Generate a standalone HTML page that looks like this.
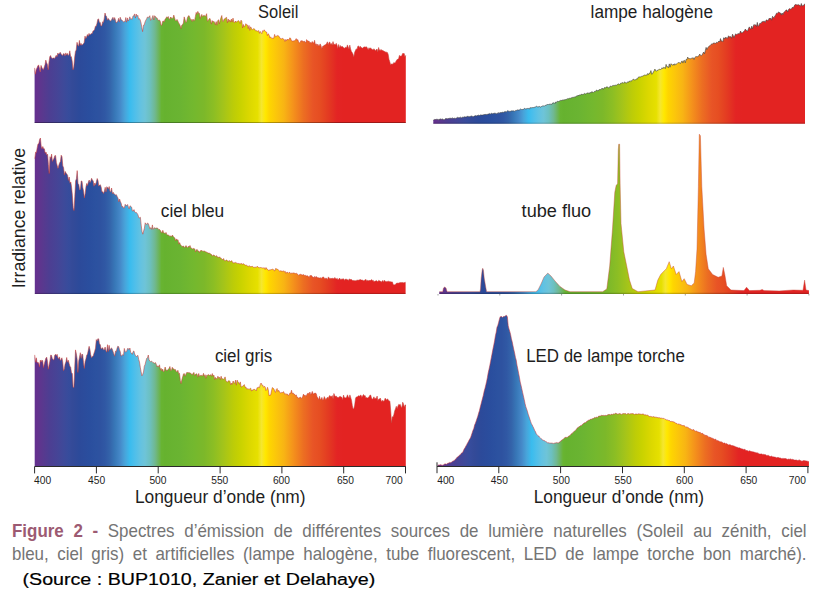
<!DOCTYPE html>
<html><head><meta charset="utf-8"><style>
html,body{margin:0;padding:0;background:#fff;}
body{width:819px;height:600px;position:relative;overflow:hidden;font-family:"Liberation Sans",sans-serif;}
.cap{position:absolute;left:11.8px;width:868.4px;font-size:18.5px;color:#747474;text-align:justify;text-align-last:justify;white-space:nowrap;line-height:20px;transform-origin:0 0;transform:scaleX(0.915);}
.cap b{color:#9c5a72;font-weight:bold;}
.l1{top:520.8px;}
.l2{top:543.5px;}
.src{position:absolute;left:22.5px;top:569px;font-size:14.6px;color:#000;line-height:18px;white-space:nowrap;transform-origin:0 0;transform:scaleX(1.346);}
</style></head><body>
<svg width="819" height="600" viewBox="0 0 819 600" style="position:absolute;left:0;top:0" font-family="Liberation Sans, sans-serif" fill="#1a1a1a"><defs><linearGradient id="gL" gradientUnits="userSpaceOnUse" x1="34.0" y1="0" x2="410.0" y2="0"><stop offset="0.0011" stop-color="#5e3290"/><stop offset="0.0061" stop-color="#65308e"/><stop offset="0.0218" stop-color="#5a388e"/><stop offset="0.0412" stop-color="#4d3e92"/><stop offset="0.0609" stop-color="#464496"/><stop offset="0.0803" stop-color="#3d4a9a"/><stop offset="0.0931" stop-color="#364c9c"/><stop offset="0.1019" stop-color="#344a98"/><stop offset="0.1215" stop-color="#2c4a9a"/><stop offset="0.1473" stop-color="#2a4e9e"/><stop offset="0.1668" stop-color="#2c52a0"/><stop offset="0.1755" stop-color="#2e52a0"/><stop offset="0.1888" stop-color="#3058a4"/><stop offset="0.2021" stop-color="#3464aa"/><stop offset="0.2154" stop-color="#3878b8"/><stop offset="0.2287" stop-color="#4588c8"/><stop offset="0.2420" stop-color="#48a4da"/><stop offset="0.2553" stop-color="#3abcee"/><stop offset="0.2686" stop-color="#4fbfea"/><stop offset="0.2819" stop-color="#62c2e2"/><stop offset="0.2952" stop-color="#6ec4d8"/><stop offset="0.3085" stop-color="#6cc0c0"/><stop offset="0.3218" stop-color="#70b890"/><stop offset="0.3324" stop-color="#6cb458"/><stop offset="0.3391" stop-color="#68b432"/><stop offset="0.3481" stop-color="#66b22f"/><stop offset="0.3870" stop-color="#6ab432"/><stop offset="0.4261" stop-color="#74b82e"/><stop offset="0.4521" stop-color="#7cb82a"/><stop offset="0.4779" stop-color="#8cbe24"/><stop offset="0.5040" stop-color="#a4c41a"/><stop offset="0.5298" stop-color="#bccc08"/><stop offset="0.5479" stop-color="#c8d200"/><stop offset="0.5739" stop-color="#dcd800"/><stop offset="0.5947" stop-color="#e6e000"/><stop offset="0.6051" stop-color="#f5e630"/><stop offset="0.6154" stop-color="#ffe800"/><stop offset="0.6258" stop-color="#fed600"/><stop offset="0.6465" stop-color="#fbc40c"/><stop offset="0.6649" stop-color="#f8b414"/><stop offset="0.6907" stop-color="#f4901c"/><stop offset="0.7168" stop-color="#ec6e22"/><stop offset="0.7426" stop-color="#e85426"/><stop offset="0.7593" stop-color="#e64e22"/><stop offset="0.7854" stop-color="#e33822"/><stop offset="0.8061" stop-color="#e32424"/><stop offset="0.8245" stop-color="#e32322"/><stop offset="1.0000" stop-color="#e32322"/></linearGradient><linearGradient id="gH" gradientUnits="userSpaceOnUse" x1="432.7" y1="0" x2="808.7" y2="0"><stop offset="0.0011" stop-color="#5e3290"/><stop offset="0.0061" stop-color="#65308e"/><stop offset="0.0218" stop-color="#5a388e"/><stop offset="0.0412" stop-color="#4d3e92"/><stop offset="0.0609" stop-color="#464496"/><stop offset="0.0803" stop-color="#3d4a9a"/><stop offset="0.0931" stop-color="#364c9c"/><stop offset="0.1019" stop-color="#344a98"/><stop offset="0.1215" stop-color="#2c4a9a"/><stop offset="0.1473" stop-color="#2a4e9e"/><stop offset="0.1668" stop-color="#2c52a0"/><stop offset="0.1755" stop-color="#2e52a0"/><stop offset="0.1888" stop-color="#3058a4"/><stop offset="0.2021" stop-color="#3464aa"/><stop offset="0.2154" stop-color="#3878b8"/><stop offset="0.2287" stop-color="#4588c8"/><stop offset="0.2420" stop-color="#48a4da"/><stop offset="0.2553" stop-color="#3abcee"/><stop offset="0.2686" stop-color="#4fbfea"/><stop offset="0.2819" stop-color="#62c2e2"/><stop offset="0.2952" stop-color="#6ec4d8"/><stop offset="0.3085" stop-color="#6cc0c0"/><stop offset="0.3218" stop-color="#70b890"/><stop offset="0.3324" stop-color="#6cb458"/><stop offset="0.3391" stop-color="#68b432"/><stop offset="0.3481" stop-color="#66b22f"/><stop offset="0.3870" stop-color="#6ab432"/><stop offset="0.4261" stop-color="#74b82e"/><stop offset="0.4521" stop-color="#7cb82a"/><stop offset="0.4779" stop-color="#8cbe24"/><stop offset="0.5040" stop-color="#a4c41a"/><stop offset="0.5298" stop-color="#bccc08"/><stop offset="0.5479" stop-color="#c8d200"/><stop offset="0.5739" stop-color="#dcd800"/><stop offset="0.5947" stop-color="#e6e000"/><stop offset="0.6051" stop-color="#f5e630"/><stop offset="0.6154" stop-color="#ffe800"/><stop offset="0.6258" stop-color="#fed600"/><stop offset="0.6465" stop-color="#fbc40c"/><stop offset="0.6649" stop-color="#f8b414"/><stop offset="0.6907" stop-color="#f4901c"/><stop offset="0.7168" stop-color="#ec6e22"/><stop offset="0.7426" stop-color="#e85426"/><stop offset="0.7593" stop-color="#e64e22"/><stop offset="0.7854" stop-color="#e33822"/><stop offset="0.8061" stop-color="#e32424"/><stop offset="0.8245" stop-color="#e32322"/><stop offset="1.0000" stop-color="#e32322"/></linearGradient><linearGradient id="gF" gradientUnits="userSpaceOnUse" x1="437.8" y1="0" x2="813.8" y2="0"><stop offset="0.0011" stop-color="#5e3290"/><stop offset="0.0061" stop-color="#65308e"/><stop offset="0.0218" stop-color="#5a388e"/><stop offset="0.0412" stop-color="#4d3e92"/><stop offset="0.0609" stop-color="#464496"/><stop offset="0.0803" stop-color="#3d4a9a"/><stop offset="0.0931" stop-color="#364c9c"/><stop offset="0.1019" stop-color="#344a98"/><stop offset="0.1215" stop-color="#2c4a9a"/><stop offset="0.1473" stop-color="#2a4e9e"/><stop offset="0.1668" stop-color="#2c52a0"/><stop offset="0.1755" stop-color="#2e52a0"/><stop offset="0.1888" stop-color="#3058a4"/><stop offset="0.2021" stop-color="#3464aa"/><stop offset="0.2154" stop-color="#3878b8"/><stop offset="0.2287" stop-color="#4588c8"/><stop offset="0.2420" stop-color="#48a4da"/><stop offset="0.2553" stop-color="#3abcee"/><stop offset="0.2686" stop-color="#4fbfea"/><stop offset="0.2819" stop-color="#62c2e2"/><stop offset="0.2952" stop-color="#6ec4d8"/><stop offset="0.3085" stop-color="#6cc0c0"/><stop offset="0.3218" stop-color="#70b890"/><stop offset="0.3324" stop-color="#6cb458"/><stop offset="0.3391" stop-color="#68b432"/><stop offset="0.3481" stop-color="#66b22f"/><stop offset="0.3870" stop-color="#6ab432"/><stop offset="0.4261" stop-color="#74b82e"/><stop offset="0.4521" stop-color="#7cb82a"/><stop offset="0.4779" stop-color="#8cbe24"/><stop offset="0.5040" stop-color="#a4c41a"/><stop offset="0.5298" stop-color="#bccc08"/><stop offset="0.5479" stop-color="#c8d200"/><stop offset="0.5739" stop-color="#dcd800"/><stop offset="0.5947" stop-color="#e6e000"/><stop offset="0.6051" stop-color="#f5e630"/><stop offset="0.6154" stop-color="#ffe800"/><stop offset="0.6258" stop-color="#fed600"/><stop offset="0.6465" stop-color="#fbc40c"/><stop offset="0.6649" stop-color="#f8b414"/><stop offset="0.6907" stop-color="#f4901c"/><stop offset="0.7168" stop-color="#ec6e22"/><stop offset="0.7426" stop-color="#e85426"/><stop offset="0.7593" stop-color="#e64e22"/><stop offset="0.7854" stop-color="#e33822"/><stop offset="0.8061" stop-color="#e32424"/><stop offset="0.8245" stop-color="#e32322"/><stop offset="1.0000" stop-color="#e32322"/></linearGradient><linearGradient id="gD" gradientUnits="userSpaceOnUse" x1="435.6" y1="0" x2="811.6" y2="0"><stop offset="0.0011" stop-color="#5e3290"/><stop offset="0.0061" stop-color="#65308e"/><stop offset="0.0218" stop-color="#5a388e"/><stop offset="0.0412" stop-color="#4d3e92"/><stop offset="0.0609" stop-color="#464496"/><stop offset="0.0803" stop-color="#3d4a9a"/><stop offset="0.0931" stop-color="#364c9c"/><stop offset="0.1019" stop-color="#344a98"/><stop offset="0.1215" stop-color="#2c4a9a"/><stop offset="0.1473" stop-color="#2a4e9e"/><stop offset="0.1668" stop-color="#2c52a0"/><stop offset="0.1755" stop-color="#2e52a0"/><stop offset="0.1888" stop-color="#3058a4"/><stop offset="0.2021" stop-color="#3464aa"/><stop offset="0.2154" stop-color="#3878b8"/><stop offset="0.2287" stop-color="#4588c8"/><stop offset="0.2420" stop-color="#48a4da"/><stop offset="0.2553" stop-color="#3abcee"/><stop offset="0.2686" stop-color="#4fbfea"/><stop offset="0.2819" stop-color="#62c2e2"/><stop offset="0.2952" stop-color="#6ec4d8"/><stop offset="0.3085" stop-color="#6cc0c0"/><stop offset="0.3218" stop-color="#70b890"/><stop offset="0.3324" stop-color="#6cb458"/><stop offset="0.3391" stop-color="#68b432"/><stop offset="0.3481" stop-color="#66b22f"/><stop offset="0.3870" stop-color="#6ab432"/><stop offset="0.4261" stop-color="#74b82e"/><stop offset="0.4521" stop-color="#7cb82a"/><stop offset="0.4779" stop-color="#8cbe24"/><stop offset="0.5040" stop-color="#a4c41a"/><stop offset="0.5298" stop-color="#bccc08"/><stop offset="0.5479" stop-color="#c8d200"/><stop offset="0.5739" stop-color="#dcd800"/><stop offset="0.5947" stop-color="#e6e000"/><stop offset="0.6051" stop-color="#f5e630"/><stop offset="0.6154" stop-color="#ffe800"/><stop offset="0.6258" stop-color="#fed600"/><stop offset="0.6465" stop-color="#fbc40c"/><stop offset="0.6649" stop-color="#f8b414"/><stop offset="0.6907" stop-color="#f4901c"/><stop offset="0.7168" stop-color="#ec6e22"/><stop offset="0.7426" stop-color="#e85426"/><stop offset="0.7593" stop-color="#e64e22"/><stop offset="0.7854" stop-color="#e33822"/><stop offset="0.8061" stop-color="#e32424"/><stop offset="0.8245" stop-color="#e32322"/><stop offset="1.0000" stop-color="#e32322"/></linearGradient></defs><path d="M34.6,123.0 L34.6,67.9 L35.4,74.2 L36.2,69.6 L37.0,68.0 L37.8,65.9 L38.6,64.9 L39.4,68.0 L40.2,71.9 L41.0,65.4 L41.8,67.3 L42.6,68.9 L43.4,69.6 L44.2,67.2 L45.0,64.8 L45.8,60.1 L46.6,62.7 L47.4,64.4 L48.2,69.8 L49.0,61.9 L49.8,56.7 L50.6,55.5 L51.4,57.8 L52.2,58.4 L53.0,58.1 L53.8,58.0 L54.6,58.4 L55.4,56.9 L56.2,55.3 L57.0,56.7 L57.8,53.1 L58.6,54.2 L59.4,53.4 L60.2,52.3 L61.0,53.7 L61.8,54.9 L62.6,55.5 L63.4,53.7 L64.2,53.7 L65.0,55.9 L65.8,52.9 L66.6,55.0 L67.4,53.4 L68.2,55.5 L69.0,54.6 L69.8,50.8 L70.6,56.4 L71.4,56.7 L72.2,61.2 L73.0,69.8 L73.8,67.1 L74.6,58.1 L75.4,51.5 L76.2,50.0 L77.0,42.3 L77.8,44.9 L78.6,46.2 L79.4,40.4 L80.2,45.3 L81.0,43.3 L81.8,45.3 L82.6,44.6 L83.4,43.7 L84.2,42.4 L85.0,36.1 L85.8,38.6 L86.6,36.9 L87.4,34.5 L88.2,36.3 L89.0,33.4 L89.8,34.8 L90.6,34.2 L91.4,33.5 L92.2,33.4 L93.0,30.9 L93.8,30.7 L94.6,29.4 L95.4,26.2 L96.2,26.2 L97.0,23.3 L97.8,19.3 L98.6,18.9 L99.4,22.4 L100.2,22.3 L101.0,26.1 L101.8,25.7 L102.6,21.8 L103.4,22.4 L104.2,18.7 L105.0,13.0 L105.8,15.6 L106.6,16.6 L107.4,20.2 L108.2,18.4 L109.0,19.6 L109.8,20.4 L110.6,21.0 L111.4,20.3 L112.2,18.5 L113.0,17.3 L113.8,20.3 L114.6,17.6 L115.4,19.7 L116.2,22.8 L117.0,22.1 L117.8,21.2 L118.6,18.3 L119.4,21.8 L120.2,17.2 L121.0,19.5 L121.8,20.0 L122.6,21.1 L123.4,21.8 L124.2,21.5 L125.0,21.7 L125.8,17.5 L126.6,22.2 L127.4,17.9 L128.2,21.0 L129.0,19.5 L129.8,16.8 L130.6,19.3 L131.4,18.8 L132.2,19.4 L133.0,15.9 L133.8,15.9 L134.6,13.9 L135.4,18.1 L136.2,14.0 L137.0,16.3 L137.8,15.3 L138.6,19.2 L139.4,18.6 L140.2,19.9 L141.0,22.8 L141.8,27.4 L142.6,31.6 L143.4,25.2 L144.2,25.2 L145.0,22.0 L145.8,20.2 L146.6,19.0 L147.4,17.0 L148.2,17.6 L149.0,17.0 L149.8,15.7 L150.6,20.3 L151.4,19.7 L152.2,17.6 L153.0,15.5 L153.8,20.0 L154.6,15.8 L155.4,16.4 L156.2,18.0 L157.0,17.8 L157.8,19.8 L158.6,20.3 L159.4,19.9 L160.2,21.2 L161.0,25.0 L161.8,25.5 L162.6,21.4 L163.4,20.9 L164.2,22.1 L165.0,19.2 L165.8,18.6 L166.6,16.9 L167.4,17.6 L168.2,16.5 L169.0,18.9 L169.8,19.3 L170.6,17.0 L171.4,18.0 L172.2,18.4 L173.0,17.9 L173.8,15.1 L174.6,17.9 L175.4,20.7 L176.2,20.7 L177.0,19.4 L177.8,20.9 L178.6,23.0 L179.4,23.9 L180.2,25.8 L181.0,28.6 L181.8,25.1 L182.6,24.6 L183.4,23.0 L184.2,16.9 L185.0,19.5 L185.8,22.5 L186.6,21.7 L187.4,17.8 L188.2,16.2 L189.0,15.6 L189.8,17.5 L190.6,19.7 L191.4,19.5 L192.2,21.5 L193.0,19.1 L193.8,20.6 L194.6,20.6 L195.4,16.4 L196.2,12.4 L197.0,14.4 L197.8,11.4 L198.6,13.2 L199.4,13.3 L200.2,18.7 L201.0,16.0 L201.8,14.4 L202.6,16.9 L203.4,15.7 L204.2,15.3 L205.0,16.3 L205.8,15.9 L206.6,13.7 L207.4,21.2 L208.2,20.6 L209.0,19.3 L209.8,18.3 L210.6,20.3 L211.4,24.1 L212.2,20.6 L213.0,22.1 L213.8,21.3 L214.6,22.2 L215.4,24.8 L216.2,21.6 L217.0,25.2 L217.8,20.5 L218.6,19.8 L219.4,23.8 L220.2,20.3 L221.0,17.6 L221.8,15.5 L222.6,21.4 L223.4,21.2 L224.2,18.9 L225.0,19.0 L225.8,17.7 L226.6,17.4 L227.4,22.9 L228.2,19.0 L229.0,21.9 L229.8,19.9 L230.6,22.1 L231.4,19.1 L232.2,22.1 L233.0,18.1 L233.8,21.9 L234.6,22.8 L235.4,21.0 L236.2,22.2 L237.0,21.4 L237.8,21.2 L238.6,20.6 L239.4,21.7 L240.2,23.5 L241.0,20.2 L241.8,21.1 L242.6,28.0 L243.4,24.5 L244.2,26.8 L245.0,26.3 L245.8,23.7 L246.6,24.8 L247.4,24.9 L248.2,28.7 L249.0,25.4 L249.8,30.4 L250.6,26.8 L251.4,28.1 L252.2,29.9 L253.0,29.2 L253.8,28.6 L254.6,29.0 L255.4,30.7 L256.2,30.7 L257.0,30.8 L257.8,31.4 L258.6,30.5 L259.4,33.3 L260.2,31.4 L261.0,32.7 L261.8,33.7 L262.6,30.7 L263.4,31.3 L264.2,29.8 L265.0,31.1 L265.8,32.0 L266.6,32.0 L267.4,35.6 L268.2,33.8 L269.0,34.6 L269.8,37.7 L270.6,36.8 L271.4,38.2 L272.2,38.5 L273.0,37.8 L273.8,38.4 L274.6,34.4 L275.4,36.8 L276.2,36.2 L277.0,36.0 L277.8,35.4 L278.6,35.9 L279.4,37.1 L280.2,38.3 L281.0,39.0 L281.8,38.7 L282.6,38.3 L283.4,39.1 L284.2,39.4 L285.0,41.5 L285.8,39.4 L286.6,40.7 L287.4,39.0 L288.2,39.8 L289.0,39.7 L289.8,37.8 L290.6,38.3 L291.4,40.6 L292.2,41.1 L293.0,40.9 L293.8,40.9 L294.6,40.8 L295.4,39.9 L296.2,38.6 L297.0,40.3 L297.8,39.6 L298.6,42.1 L299.4,42.9 L300.2,42.3 L301.0,40.5 L301.8,41.1 L302.6,40.9 L303.4,41.6 L304.2,41.3 L305.0,41.7 L305.8,42.9 L306.6,39.6 L307.4,40.7 L308.2,41.3 L309.0,41.0 L309.8,42.8 L310.6,42.5 L311.4,43.2 L312.2,41.5 L313.0,42.4 L313.8,43.3 L314.6,40.3 L315.4,45.0 L316.2,43.8 L317.0,45.9 L317.8,44.1 L318.6,46.0 L319.4,45.4 L320.2,43.9 L321.0,45.7 L321.8,49.0 L322.6,46.4 L323.4,46.1 L324.2,45.3 L325.0,45.0 L325.8,44.6 L326.6,43.5 L327.4,41.8 L328.2,45.1 L329.0,42.5 L329.8,42.0 L330.6,44.6 L331.4,43.5 L332.2,45.2 L333.0,41.6 L333.8,44.6 L334.6,44.2 L335.4,45.0 L336.2,43.3 L337.0,45.1 L337.8,48.4 L338.6,44.5 L339.4,48.1 L340.2,45.4 L341.0,47.1 L341.8,46.5 L342.6,46.6 L343.4,47.6 L344.2,48.2 L345.0,48.0 L345.8,47.1 L346.6,47.8 L347.4,44.9 L348.2,47.0 L349.0,49.1 L349.8,45.1 L350.6,48.9 L351.4,51.5 L352.2,52.6 L353.0,54.2 L353.8,57.0 L354.6,52.4 L355.4,50.6 L356.2,48.9 L357.0,49.4 L357.8,46.3 L358.6,45.9 L359.4,47.7 L360.2,46.2 L361.0,47.4 L361.8,47.7 L362.6,48.3 L363.4,47.3 L364.2,47.1 L365.0,46.8 L365.8,47.2 L366.6,46.8 L367.4,48.2 L368.2,49.7 L369.0,47.7 L369.8,49.0 L370.6,47.8 L371.4,49.1 L372.2,49.2 L373.0,50.2 L373.8,48.8 L374.6,49.4 L375.4,51.0 L376.2,49.8 L377.0,49.0 L377.8,51.9 L378.6,47.5 L379.4,50.1 L380.2,50.4 L381.0,49.4 L381.8,50.2 L382.6,50.5 L383.4,50.7 L384.2,51.5 L385.0,51.6 L385.8,52.3 L386.6,52.2 L387.4,52.5 L388.2,54.4 L389.0,59.4 L389.8,61.8 L390.6,64.8 L391.4,64.1 L392.2,64.0 L393.0,64.2 L393.8,62.5 L394.6,63.0 L395.4,62.4 L396.2,60.9 L397.0,59.6 L397.8,59.3 L398.6,58.8 L399.4,55.4 L400.2,56.0 L401.0,56.3 L401.8,55.5 L402.6,53.5 L403.4,53.5 L404.2,53.5 L405.0,57.0 L405.8,55.3 L405.8,123.0 Z" fill="url(#gL)"/><path d="M34.6,67.9 L35.4,74.2 L36.2,69.6 L37.0,68.0 L37.8,65.9 L38.6,64.9 L39.4,68.0 L40.2,71.9 L41.0,65.4 L41.8,67.3 L42.6,68.9 L43.4,69.6 L44.2,67.2 L45.0,64.8 L45.8,60.1 L46.6,62.7 L47.4,64.4 L48.2,69.8 L49.0,61.9 L49.8,56.7 L50.6,55.5 L51.4,57.8 L52.2,58.4 L53.0,58.1 L53.8,58.0 L54.6,58.4 L55.4,56.9 L56.2,55.3 L57.0,56.7 L57.8,53.1 L58.6,54.2 L59.4,53.4 L60.2,52.3 L61.0,53.7 L61.8,54.9 L62.6,55.5 L63.4,53.7 L64.2,53.7 L65.0,55.9 L65.8,52.9 L66.6,55.0 L67.4,53.4 L68.2,55.5 L69.0,54.6 L69.8,50.8 L70.6,56.4 L71.4,56.7 L72.2,61.2 L73.0,69.8 L73.8,67.1 L74.6,58.1 L75.4,51.5 L76.2,50.0 L77.0,42.3 L77.8,44.9 L78.6,46.2 L79.4,40.4 L80.2,45.3 L81.0,43.3 L81.8,45.3 L82.6,44.6 L83.4,43.7 L84.2,42.4 L85.0,36.1 L85.8,38.6 L86.6,36.9 L87.4,34.5 L88.2,36.3 L89.0,33.4 L89.8,34.8 L90.6,34.2 L91.4,33.5 L92.2,33.4 L93.0,30.9 L93.8,30.7 L94.6,29.4 L95.4,26.2 L96.2,26.2 L97.0,23.3 L97.8,19.3 L98.6,18.9 L99.4,22.4 L100.2,22.3 L101.0,26.1 L101.8,25.7 L102.6,21.8 L103.4,22.4 L104.2,18.7 L105.0,13.0 L105.8,15.6 L106.6,16.6 L107.4,20.2 L108.2,18.4 L109.0,19.6 L109.8,20.4 L110.6,21.0 L111.4,20.3 L112.2,18.5 L113.0,17.3 L113.8,20.3 L114.6,17.6 L115.4,19.7 L116.2,22.8 L117.0,22.1 L117.8,21.2 L118.6,18.3 L119.4,21.8 L120.2,17.2 L121.0,19.5 L121.8,20.0 L122.6,21.1 L123.4,21.8 L124.2,21.5 L125.0,21.7 L125.8,17.5 L126.6,22.2 L127.4,17.9 L128.2,21.0 L129.0,19.5 L129.8,16.8 L130.6,19.3 L131.4,18.8 L132.2,19.4 L133.0,15.9 L133.8,15.9 L134.6,13.9 L135.4,18.1 L136.2,14.0 L137.0,16.3 L137.8,15.3 L138.6,19.2 L139.4,18.6 L140.2,19.9 L141.0,22.8 L141.8,27.4 L142.6,31.6 L143.4,25.2 L144.2,25.2 L145.0,22.0 L145.8,20.2 L146.6,19.0 L147.4,17.0 L148.2,17.6 L149.0,17.0 L149.8,15.7 L150.6,20.3 L151.4,19.7 L152.2,17.6 L153.0,15.5 L153.8,20.0 L154.6,15.8 L155.4,16.4 L156.2,18.0 L157.0,17.8 L157.8,19.8 L158.6,20.3 L159.4,19.9 L160.2,21.2 L161.0,25.0 L161.8,25.5 L162.6,21.4 L163.4,20.9 L164.2,22.1 L165.0,19.2 L165.8,18.6 L166.6,16.9 L167.4,17.6 L168.2,16.5 L169.0,18.9 L169.8,19.3 L170.6,17.0 L171.4,18.0 L172.2,18.4 L173.0,17.9 L173.8,15.1 L174.6,17.9 L175.4,20.7 L176.2,20.7 L177.0,19.4 L177.8,20.9 L178.6,23.0 L179.4,23.9 L180.2,25.8 L181.0,28.6 L181.8,25.1 L182.6,24.6 L183.4,23.0 L184.2,16.9 L185.0,19.5 L185.8,22.5 L186.6,21.7 L187.4,17.8 L188.2,16.2 L189.0,15.6 L189.8,17.5 L190.6,19.7 L191.4,19.5 L192.2,21.5 L193.0,19.1 L193.8,20.6 L194.6,20.6 L195.4,16.4 L196.2,12.4 L197.0,14.4 L197.8,11.4 L198.6,13.2 L199.4,13.3 L200.2,18.7 L201.0,16.0 L201.8,14.4 L202.6,16.9 L203.4,15.7 L204.2,15.3 L205.0,16.3 L205.8,15.9 L206.6,13.7 L207.4,21.2 L208.2,20.6 L209.0,19.3 L209.8,18.3 L210.6,20.3 L211.4,24.1 L212.2,20.6 L213.0,22.1 L213.8,21.3 L214.6,22.2 L215.4,24.8 L216.2,21.6 L217.0,25.2 L217.8,20.5 L218.6,19.8 L219.4,23.8 L220.2,20.3 L221.0,17.6 L221.8,15.5 L222.6,21.4 L223.4,21.2 L224.2,18.9 L225.0,19.0 L225.8,17.7 L226.6,17.4 L227.4,22.9 L228.2,19.0 L229.0,21.9 L229.8,19.9 L230.6,22.1 L231.4,19.1 L232.2,22.1 L233.0,18.1 L233.8,21.9 L234.6,22.8 L235.4,21.0 L236.2,22.2 L237.0,21.4 L237.8,21.2 L238.6,20.6 L239.4,21.7 L240.2,23.5 L241.0,20.2 L241.8,21.1 L242.6,28.0 L243.4,24.5 L244.2,26.8 L245.0,26.3 L245.8,23.7 L246.6,24.8 L247.4,24.9 L248.2,28.7 L249.0,25.4 L249.8,30.4 L250.6,26.8 L251.4,28.1 L252.2,29.9 L253.0,29.2 L253.8,28.6 L254.6,29.0 L255.4,30.7 L256.2,30.7 L257.0,30.8 L257.8,31.4 L258.6,30.5 L259.4,33.3 L260.2,31.4 L261.0,32.7 L261.8,33.7 L262.6,30.7 L263.4,31.3 L264.2,29.8 L265.0,31.1 L265.8,32.0 L266.6,32.0 L267.4,35.6 L268.2,33.8 L269.0,34.6 L269.8,37.7 L270.6,36.8 L271.4,38.2 L272.2,38.5 L273.0,37.8 L273.8,38.4 L274.6,34.4 L275.4,36.8 L276.2,36.2 L277.0,36.0 L277.8,35.4 L278.6,35.9 L279.4,37.1 L280.2,38.3 L281.0,39.0 L281.8,38.7 L282.6,38.3 L283.4,39.1 L284.2,39.4 L285.0,41.5 L285.8,39.4 L286.6,40.7 L287.4,39.0 L288.2,39.8 L289.0,39.7 L289.8,37.8 L290.6,38.3 L291.4,40.6 L292.2,41.1 L293.0,40.9 L293.8,40.9 L294.6,40.8 L295.4,39.9 L296.2,38.6 L297.0,40.3 L297.8,39.6 L298.6,42.1 L299.4,42.9 L300.2,42.3 L301.0,40.5 L301.8,41.1 L302.6,40.9 L303.4,41.6 L304.2,41.3 L305.0,41.7 L305.8,42.9 L306.6,39.6 L307.4,40.7 L308.2,41.3 L309.0,41.0 L309.8,42.8 L310.6,42.5 L311.4,43.2 L312.2,41.5 L313.0,42.4 L313.8,43.3 L314.6,40.3 L315.4,45.0 L316.2,43.8 L317.0,45.9 L317.8,44.1 L318.6,46.0 L319.4,45.4 L320.2,43.9 L321.0,45.7 L321.8,49.0 L322.6,46.4 L323.4,46.1 L324.2,45.3 L325.0,45.0 L325.8,44.6 L326.6,43.5 L327.4,41.8 L328.2,45.1 L329.0,42.5 L329.8,42.0 L330.6,44.6 L331.4,43.5 L332.2,45.2 L333.0,41.6 L333.8,44.6 L334.6,44.2 L335.4,45.0 L336.2,43.3 L337.0,45.1 L337.8,48.4 L338.6,44.5 L339.4,48.1 L340.2,45.4 L341.0,47.1 L341.8,46.5 L342.6,46.6 L343.4,47.6 L344.2,48.2 L345.0,48.0 L345.8,47.1 L346.6,47.8 L347.4,44.9 L348.2,47.0 L349.0,49.1 L349.8,45.1 L350.6,48.9 L351.4,51.5 L352.2,52.6 L353.0,54.2 L353.8,57.0 L354.6,52.4 L355.4,50.6 L356.2,48.9 L357.0,49.4 L357.8,46.3 L358.6,45.9 L359.4,47.7 L360.2,46.2 L361.0,47.4 L361.8,47.7 L362.6,48.3 L363.4,47.3 L364.2,47.1 L365.0,46.8 L365.8,47.2 L366.6,46.8 L367.4,48.2 L368.2,49.7 L369.0,47.7 L369.8,49.0 L370.6,47.8 L371.4,49.1 L372.2,49.2 L373.0,50.2 L373.8,48.8 L374.6,49.4 L375.4,51.0 L376.2,49.8 L377.0,49.0 L377.8,51.9 L378.6,47.5 L379.4,50.1 L380.2,50.4 L381.0,49.4 L381.8,50.2 L382.6,50.5 L383.4,50.7 L384.2,51.5 L385.0,51.6 L385.8,52.3 L386.6,52.2 L387.4,52.5 L388.2,54.4 L389.0,59.4 L389.8,61.8 L390.6,64.8 L391.4,64.1 L392.2,64.0 L393.0,64.2 L393.8,62.5 L394.6,63.0 L395.4,62.4 L396.2,60.9 L397.0,59.6 L397.8,59.3 L398.6,58.8 L399.4,55.4 L400.2,56.0 L401.0,56.3 L401.8,55.5 L402.6,53.5 L403.4,53.5 L404.2,53.5 L405.0,57.0 L405.8,55.3" fill="none" stroke="#c83c34" stroke-width="1.0" stroke-opacity="0.55" stroke-linejoin="round"/><path d="M433.3,123.8 L433.3,120.1 L434.1,119.9 L434.9,119.3 L435.7,119.6 L436.5,119.3 L437.3,119.4 L438.1,119.2 L438.9,120.2 L439.7,119.0 L440.5,118.9 L441.3,119.3 L442.1,119.2 L442.9,118.9 L443.7,119.9 L444.5,119.8 L445.3,118.7 L446.1,118.6 L446.9,118.7 L447.7,118.8 L448.5,118.5 L449.3,118.3 L450.1,118.5 L450.9,118.1 L451.7,118.4 L452.5,117.9 L453.3,118.6 L454.1,118.1 L454.9,118.4 L455.7,118.4 L456.5,118.1 L457.3,117.4 L458.1,117.4 L458.9,117.9 L459.7,117.6 L460.5,117.2 L461.3,117.9 L462.1,117.2 L462.9,117.3 L463.7,117.2 L464.5,116.8 L465.3,116.9 L466.1,117.1 L466.9,116.8 L467.7,115.9 L468.5,116.8 L469.3,116.7 L470.1,116.5 L470.9,116.2 L471.7,116.0 L472.5,116.4 L473.3,116.8 L474.1,116.1 L474.9,116.0 L475.7,115.6 L476.5,115.9 L477.3,115.6 L478.1,115.2 L478.9,115.2 L479.7,115.6 L480.5,114.9 L481.3,115.1 L482.1,115.0 L482.9,115.1 L483.7,114.7 L484.5,114.5 L485.3,114.5 L486.1,114.2 L486.9,114.9 L487.7,114.0 L488.5,114.1 L489.3,113.5 L490.1,114.2 L490.9,113.7 L491.7,113.3 L492.5,113.8 L493.3,113.5 L494.1,113.3 L494.9,113.2 L495.7,113.4 L496.5,113.8 L497.3,113.2 L498.1,113.5 L498.9,112.4 L499.7,113.2 L500.5,112.5 L501.3,112.6 L502.1,112.6 L502.9,112.0 L503.7,112.4 L504.5,111.8 L505.3,111.5 L506.1,112.2 L506.9,111.5 L507.7,110.6 L508.5,111.2 L509.3,111.4 L510.1,111.3 L510.9,111.3 L511.7,110.8 L512.5,110.9 L513.3,110.8 L514.1,111.2 L514.9,111.2 L515.7,110.4 L516.5,110.4 L517.3,109.9 L518.1,110.1 L518.9,110.1 L519.7,109.8 L520.5,109.0 L521.3,109.4 L522.1,109.7 L522.9,109.3 L523.7,109.3 L524.5,108.3 L525.3,108.9 L526.1,108.8 L526.9,108.7 L527.7,108.4 L528.5,108.4 L529.3,109.2 L530.1,107.5 L530.9,108.1 L531.7,107.7 L532.5,107.6 L533.3,107.7 L534.1,107.1 L534.9,107.5 L535.7,106.8 L536.5,106.1 L537.3,106.9 L538.1,107.0 L538.9,106.6 L539.7,106.5 L540.5,107.1 L541.3,106.6 L542.1,106.2 L542.9,105.9 L543.7,105.9 L544.5,106.1 L545.3,105.3 L546.1,105.4 L546.9,104.8 L547.7,104.0 L548.5,104.9 L549.3,104.1 L550.1,104.2 L550.9,104.2 L551.7,104.5 L552.5,103.0 L553.3,103.0 L554.1,102.7 L554.9,103.6 L555.7,102.0 L556.5,102.4 L557.3,101.2 L558.1,101.7 L558.9,101.3 L559.7,100.9 L560.5,100.4 L561.3,100.6 L562.1,99.9 L562.9,100.3 L563.7,99.9 L564.5,99.8 L565.3,99.7 L566.1,99.3 L566.9,99.4 L567.7,98.5 L568.5,98.8 L569.3,98.3 L570.1,98.5 L570.9,98.0 L571.7,97.7 L572.5,97.4 L573.3,97.3 L574.1,97.4 L574.9,96.8 L575.7,96.8 L576.5,96.1 L577.3,96.3 L578.1,95.0 L578.9,95.8 L579.7,94.8 L580.5,95.1 L581.3,94.3 L582.1,94.2 L582.9,94.8 L583.7,94.1 L584.5,93.4 L585.3,94.1 L586.1,93.7 L586.9,92.9 L587.7,93.1 L588.5,92.9 L589.3,93.8 L590.1,92.3 L590.9,93.1 L591.7,91.7 L592.5,92.1 L593.3,92.5 L594.1,91.7 L594.9,91.4 L595.7,91.4 L596.5,90.0 L597.3,90.5 L598.1,91.0 L598.9,89.8 L599.7,89.6 L600.5,89.6 L601.3,89.4 L602.1,88.1 L602.9,89.3 L603.7,88.8 L604.5,87.5 L605.3,88.2 L606.1,87.0 L606.9,86.9 L607.7,87.1 L608.5,87.8 L609.3,87.7 L610.1,86.2 L610.9,86.2 L611.7,86.4 L612.5,85.7 L613.3,85.4 L614.1,85.7 L614.9,85.2 L615.7,85.2 L616.5,85.2 L617.3,84.6 L618.1,84.0 L618.9,83.9 L619.7,84.7 L620.5,83.3 L621.3,83.2 L622.1,82.9 L622.9,82.6 L623.7,83.4 L624.5,81.9 L625.3,82.6 L626.1,83.0 L626.9,82.9 L627.7,81.8 L628.5,82.3 L629.3,81.0 L630.1,81.7 L630.9,80.6 L631.7,80.9 L632.5,80.2 L633.3,79.1 L634.1,79.7 L634.9,80.0 L635.7,79.8 L636.5,78.8 L637.3,79.2 L638.1,77.4 L638.9,77.0 L639.7,76.9 L640.5,76.9 L641.3,76.4 L642.1,76.5 L642.9,75.9 L643.7,75.6 L644.5,75.1 L645.3,75.3 L646.1,74.7 L646.9,75.4 L647.7,73.5 L648.5,74.6 L649.3,73.1 L650.1,73.3 L650.9,70.6 L651.7,74.3 L652.5,73.8 L653.3,72.1 L654.1,71.0 L654.9,69.1 L655.7,70.8 L656.5,71.2 L657.3,70.2 L658.1,70.4 L658.9,69.3 L659.7,69.3 L660.5,69.5 L661.3,69.2 L662.1,67.7 L662.9,68.8 L663.7,67.3 L664.5,67.6 L665.3,68.7 L666.1,64.4 L666.9,67.2 L667.7,66.6 L668.5,67.8 L669.3,63.9 L670.1,67.2 L670.9,63.7 L671.7,64.3 L672.5,65.4 L673.3,64.1 L674.1,65.3 L674.9,63.7 L675.7,64.7 L676.5,64.1 L677.3,63.4 L678.1,62.6 L678.9,62.8 L679.7,62.8 L680.5,63.5 L681.3,61.8 L682.1,60.9 L682.9,63.1 L683.7,60.7 L684.5,60.4 L685.3,62.8 L686.1,59.4 L686.9,59.7 L687.7,57.1 L688.5,58.6 L689.3,58.6 L690.1,58.7 L690.9,58.7 L691.7,58.2 L692.5,58.0 L693.3,57.8 L694.1,59.5 L694.9,57.4 L695.7,56.7 L696.5,56.6 L697.3,56.8 L698.1,56.3 L698.9,55.8 L699.7,54.1 L700.5,55.3 L701.3,55.7 L702.1,55.0 L702.9,53.3 L703.7,52.0 L704.5,53.8 L705.3,50.7 L706.1,47.4 L706.9,49.6 L707.7,47.9 L708.5,46.7 L709.3,46.1 L710.1,45.7 L710.9,44.6 L711.7,44.0 L712.5,44.2 L713.3,43.0 L714.1,43.2 L714.9,43.1 L715.7,43.5 L716.5,42.3 L717.3,42.9 L718.1,41.9 L718.9,41.0 L719.7,42.0 L720.5,38.6 L721.3,41.1 L722.1,40.9 L722.9,41.7 L723.7,37.7 L724.5,39.0 L725.3,37.3 L726.1,38.2 L726.9,37.4 L727.7,38.4 L728.5,35.8 L729.3,36.8 L730.1,36.9 L730.9,36.6 L731.7,38.3 L732.5,34.2 L733.3,35.8 L734.1,37.6 L734.9,35.5 L735.7,33.8 L736.5,34.8 L737.3,34.3 L738.1,33.4 L738.9,34.0 L739.7,33.5 L740.5,31.0 L741.3,32.8 L742.1,33.1 L742.9,32.2 L743.7,31.6 L744.5,30.7 L745.3,29.1 L746.1,30.1 L746.9,31.0 L747.7,30.9 L748.5,28.6 L749.3,26.9 L750.1,28.7 L750.9,29.1 L751.7,26.2 L752.5,28.8 L753.3,26.1 L754.1,24.4 L754.9,25.4 L755.7,24.8 L756.5,26.6 L757.3,22.4 L758.1,26.2 L758.9,25.8 L759.7,23.4 L760.5,23.3 L761.3,23.2 L762.1,21.4 L762.9,22.0 L763.7,21.2 L764.5,21.2 L765.3,22.4 L766.1,20.1 L766.9,19.9 L767.7,20.5 L768.5,20.1 L769.3,18.0 L770.1,18.9 L770.9,18.1 L771.7,20.2 L772.5,16.3 L773.3,17.4 L774.1,17.7 L774.9,15.9 L775.7,15.1 L776.5,13.2 L777.3,13.4 L778.1,12.4 L778.9,12.0 L779.7,12.7 L780.5,13.0 L781.3,15.1 L782.1,13.0 L782.9,14.7 L783.7,12.5 L784.5,11.8 L785.3,11.2 L786.1,9.9 L786.9,10.1 L787.7,12.0 L788.5,9.7 L789.3,8.6 L790.1,9.3 L790.9,8.9 L791.7,8.7 L792.5,7.1 L793.3,7.9 L794.1,6.3 L794.9,4.8 L795.7,4.5 L796.5,4.8 L797.3,5.1 L798.1,4.4 L798.9,5.1 L799.7,5.3 L800.5,6.3 L801.3,3.5 L802.1,6.1 L802.9,5.6 L803.7,5.5 L804.5,4.0 L805.0,4.4 L805.0,123.8 Z" fill="url(#gH)"/><path d="M433.3,120.1 L434.1,119.9 L434.9,119.3 L435.7,119.6 L436.5,119.3 L437.3,119.4 L438.1,119.2 L438.9,120.2 L439.7,119.0 L440.5,118.9 L441.3,119.3 L442.1,119.2 L442.9,118.9 L443.7,119.9 L444.5,119.8 L445.3,118.7 L446.1,118.6 L446.9,118.7 L447.7,118.8 L448.5,118.5 L449.3,118.3 L450.1,118.5 L450.9,118.1 L451.7,118.4 L452.5,117.9 L453.3,118.6 L454.1,118.1 L454.9,118.4 L455.7,118.4 L456.5,118.1 L457.3,117.4 L458.1,117.4 L458.9,117.9 L459.7,117.6 L460.5,117.2 L461.3,117.9 L462.1,117.2 L462.9,117.3 L463.7,117.2 L464.5,116.8 L465.3,116.9 L466.1,117.1 L466.9,116.8 L467.7,115.9 L468.5,116.8 L469.3,116.7 L470.1,116.5 L470.9,116.2 L471.7,116.0 L472.5,116.4 L473.3,116.8 L474.1,116.1 L474.9,116.0 L475.7,115.6 L476.5,115.9 L477.3,115.6 L478.1,115.2 L478.9,115.2 L479.7,115.6 L480.5,114.9 L481.3,115.1 L482.1,115.0 L482.9,115.1 L483.7,114.7 L484.5,114.5 L485.3,114.5 L486.1,114.2 L486.9,114.9 L487.7,114.0 L488.5,114.1 L489.3,113.5 L490.1,114.2 L490.9,113.7 L491.7,113.3 L492.5,113.8 L493.3,113.5 L494.1,113.3 L494.9,113.2 L495.7,113.4 L496.5,113.8 L497.3,113.2 L498.1,113.5 L498.9,112.4 L499.7,113.2 L500.5,112.5 L501.3,112.6 L502.1,112.6 L502.9,112.0 L503.7,112.4 L504.5,111.8 L505.3,111.5 L506.1,112.2 L506.9,111.5 L507.7,110.6 L508.5,111.2 L509.3,111.4 L510.1,111.3 L510.9,111.3 L511.7,110.8 L512.5,110.9 L513.3,110.8 L514.1,111.2 L514.9,111.2 L515.7,110.4 L516.5,110.4 L517.3,109.9 L518.1,110.1 L518.9,110.1 L519.7,109.8 L520.5,109.0 L521.3,109.4 L522.1,109.7 L522.9,109.3 L523.7,109.3 L524.5,108.3 L525.3,108.9 L526.1,108.8 L526.9,108.7 L527.7,108.4 L528.5,108.4 L529.3,109.2 L530.1,107.5 L530.9,108.1 L531.7,107.7 L532.5,107.6 L533.3,107.7 L534.1,107.1 L534.9,107.5 L535.7,106.8 L536.5,106.1 L537.3,106.9 L538.1,107.0 L538.9,106.6 L539.7,106.5 L540.5,107.1 L541.3,106.6 L542.1,106.2 L542.9,105.9 L543.7,105.9 L544.5,106.1 L545.3,105.3 L546.1,105.4 L546.9,104.8 L547.7,104.0 L548.5,104.9 L549.3,104.1 L550.1,104.2 L550.9,104.2 L551.7,104.5 L552.5,103.0 L553.3,103.0 L554.1,102.7 L554.9,103.6 L555.7,102.0 L556.5,102.4 L557.3,101.2 L558.1,101.7 L558.9,101.3 L559.7,100.9 L560.5,100.4 L561.3,100.6 L562.1,99.9 L562.9,100.3 L563.7,99.9 L564.5,99.8 L565.3,99.7 L566.1,99.3 L566.9,99.4 L567.7,98.5 L568.5,98.8 L569.3,98.3 L570.1,98.5 L570.9,98.0 L571.7,97.7 L572.5,97.4 L573.3,97.3 L574.1,97.4 L574.9,96.8 L575.7,96.8 L576.5,96.1 L577.3,96.3 L578.1,95.0 L578.9,95.8 L579.7,94.8 L580.5,95.1 L581.3,94.3 L582.1,94.2 L582.9,94.8 L583.7,94.1 L584.5,93.4 L585.3,94.1 L586.1,93.7 L586.9,92.9 L587.7,93.1 L588.5,92.9 L589.3,93.8 L590.1,92.3 L590.9,93.1 L591.7,91.7 L592.5,92.1 L593.3,92.5 L594.1,91.7 L594.9,91.4 L595.7,91.4 L596.5,90.0 L597.3,90.5 L598.1,91.0 L598.9,89.8 L599.7,89.6 L600.5,89.6 L601.3,89.4 L602.1,88.1 L602.9,89.3 L603.7,88.8 L604.5,87.5 L605.3,88.2 L606.1,87.0 L606.9,86.9 L607.7,87.1 L608.5,87.8 L609.3,87.7 L610.1,86.2 L610.9,86.2 L611.7,86.4 L612.5,85.7 L613.3,85.4 L614.1,85.7 L614.9,85.2 L615.7,85.2 L616.5,85.2 L617.3,84.6 L618.1,84.0 L618.9,83.9 L619.7,84.7 L620.5,83.3 L621.3,83.2 L622.1,82.9 L622.9,82.6 L623.7,83.4 L624.5,81.9 L625.3,82.6 L626.1,83.0 L626.9,82.9 L627.7,81.8 L628.5,82.3 L629.3,81.0 L630.1,81.7 L630.9,80.6 L631.7,80.9 L632.5,80.2 L633.3,79.1 L634.1,79.7 L634.9,80.0 L635.7,79.8 L636.5,78.8 L637.3,79.2 L638.1,77.4 L638.9,77.0 L639.7,76.9 L640.5,76.9 L641.3,76.4 L642.1,76.5 L642.9,75.9 L643.7,75.6 L644.5,75.1 L645.3,75.3 L646.1,74.7 L646.9,75.4 L647.7,73.5 L648.5,74.6 L649.3,73.1 L650.1,73.3 L650.9,70.6 L651.7,74.3 L652.5,73.8 L653.3,72.1 L654.1,71.0 L654.9,69.1 L655.7,70.8 L656.5,71.2 L657.3,70.2 L658.1,70.4 L658.9,69.3 L659.7,69.3 L660.5,69.5 L661.3,69.2 L662.1,67.7 L662.9,68.8 L663.7,67.3 L664.5,67.6 L665.3,68.7 L666.1,64.4 L666.9,67.2 L667.7,66.6 L668.5,67.8 L669.3,63.9 L670.1,67.2 L670.9,63.7 L671.7,64.3 L672.5,65.4 L673.3,64.1 L674.1,65.3 L674.9,63.7 L675.7,64.7 L676.5,64.1 L677.3,63.4 L678.1,62.6 L678.9,62.8 L679.7,62.8 L680.5,63.5 L681.3,61.8 L682.1,60.9 L682.9,63.1 L683.7,60.7 L684.5,60.4 L685.3,62.8 L686.1,59.4 L686.9,59.7 L687.7,57.1 L688.5,58.6 L689.3,58.6 L690.1,58.7 L690.9,58.7 L691.7,58.2 L692.5,58.0 L693.3,57.8 L694.1,59.5 L694.9,57.4 L695.7,56.7 L696.5,56.6 L697.3,56.8 L698.1,56.3 L698.9,55.8 L699.7,54.1 L700.5,55.3 L701.3,55.7 L702.1,55.0 L702.9,53.3 L703.7,52.0 L704.5,53.8 L705.3,50.7 L706.1,47.4 L706.9,49.6 L707.7,47.9 L708.5,46.7 L709.3,46.1 L710.1,45.7 L710.9,44.6 L711.7,44.0 L712.5,44.2 L713.3,43.0 L714.1,43.2 L714.9,43.1 L715.7,43.5 L716.5,42.3 L717.3,42.9 L718.1,41.9 L718.9,41.0 L719.7,42.0 L720.5,38.6 L721.3,41.1 L722.1,40.9 L722.9,41.7 L723.7,37.7 L724.5,39.0 L725.3,37.3 L726.1,38.2 L726.9,37.4 L727.7,38.4 L728.5,35.8 L729.3,36.8 L730.1,36.9 L730.9,36.6 L731.7,38.3 L732.5,34.2 L733.3,35.8 L734.1,37.6 L734.9,35.5 L735.7,33.8 L736.5,34.8 L737.3,34.3 L738.1,33.4 L738.9,34.0 L739.7,33.5 L740.5,31.0 L741.3,32.8 L742.1,33.1 L742.9,32.2 L743.7,31.6 L744.5,30.7 L745.3,29.1 L746.1,30.1 L746.9,31.0 L747.7,30.9 L748.5,28.6 L749.3,26.9 L750.1,28.7 L750.9,29.1 L751.7,26.2 L752.5,28.8 L753.3,26.1 L754.1,24.4 L754.9,25.4 L755.7,24.8 L756.5,26.6 L757.3,22.4 L758.1,26.2 L758.9,25.8 L759.7,23.4 L760.5,23.3 L761.3,23.2 L762.1,21.4 L762.9,22.0 L763.7,21.2 L764.5,21.2 L765.3,22.4 L766.1,20.1 L766.9,19.9 L767.7,20.5 L768.5,20.1 L769.3,18.0 L770.1,18.9 L770.9,18.1 L771.7,20.2 L772.5,16.3 L773.3,17.4 L774.1,17.7 L774.9,15.9 L775.7,15.1 L776.5,13.2 L777.3,13.4 L778.1,12.4 L778.9,12.0 L779.7,12.7 L780.5,13.0 L781.3,15.1 L782.1,13.0 L782.9,14.7 L783.7,12.5 L784.5,11.8 L785.3,11.2 L786.1,9.9 L786.9,10.1 L787.7,12.0 L788.5,9.7 L789.3,8.6 L790.1,9.3 L790.9,8.9 L791.7,8.7 L792.5,7.1 L793.3,7.9 L794.1,6.3 L794.9,4.8 L795.7,4.5 L796.5,4.8 L797.3,5.1 L798.1,4.4 L798.9,5.1 L799.7,5.3 L800.5,6.3 L801.3,3.5 L802.1,6.1 L802.9,5.6 L803.7,5.5 L804.5,4.0 L805.0,4.4" fill="none" stroke="#444444" stroke-width="0.8" stroke-opacity="0.8" stroke-linejoin="round"/><path d="M34.8,294.0 L34.8,158.7 L35.6,152.1 L36.4,152.6 L37.2,147.7 L38.0,143.9 L38.8,143.7 L39.6,139.5 L40.4,138.0 L41.2,146.2 L42.0,148.7 L42.8,146.5 L43.6,148.8 L44.4,148.8 L45.2,153.3 L46.0,152.0 L46.8,155.1 L47.6,154.2 L48.4,164.4 L49.2,173.5 L50.0,156.7 L50.8,158.5 L51.6,154.1 L52.4,161.4 L53.2,159.7 L54.0,158.3 L54.8,155.7 L55.6,155.5 L56.4,162.5 L57.2,165.4 L58.0,168.4 L58.8,165.2 L59.6,162.9 L60.4,161.6 L61.2,155.2 L62.0,156.7 L62.8,165.9 L63.6,167.6 L64.4,175.1 L65.2,171.4 L66.0,173.1 L66.8,174.0 L67.6,175.2 L68.4,180.5 L69.2,177.0 L70.0,183.2 L70.8,182.0 L71.6,187.3 L72.4,195.5 L73.2,207.9 L74.0,210.6 L74.8,196.3 L75.6,180.8 L76.4,178.9 L77.2,170.6 L78.0,183.4 L78.8,184.6 L79.6,189.9 L80.4,189.3 L81.2,181.0 L82.0,181.2 L82.8,187.4 L83.6,191.3 L84.4,197.9 L85.2,193.5 L86.0,186.4 L86.8,183.4 L87.6,185.6 L88.4,181.8 L89.2,180.0 L90.0,182.6 L90.8,181.0 L91.6,178.3 L92.4,180.0 L93.2,180.9 L94.0,186.3 L94.8,183.0 L95.6,184.9 L96.4,181.6 L97.2,178.5 L98.0,180.5 L98.8,186.2 L99.6,185.1 L100.4,184.8 L101.2,187.2 L102.0,191.9 L102.8,191.8 L103.6,193.5 L104.4,190.9 L105.2,187.3 L106.0,191.9 L106.8,186.7 L107.6,187.5 L108.4,189.0 L109.2,186.5 L110.0,191.6 L110.8,191.7 L111.6,188.0 L112.4,193.6 L113.2,192.3 L114.0,194.1 L114.8,194.3 L115.6,195.0 L116.4,194.7 L117.2,196.5 L118.0,198.1 L118.8,201.8 L119.6,199.0 L120.4,201.6 L121.2,203.3 L122.0,206.8 L122.8,206.4 L123.6,208.1 L124.4,207.8 L125.2,204.3 L126.0,205.6 L126.8,205.4 L127.6,204.5 L128.4,207.2 L129.2,208.8 L130.0,205.8 L130.8,206.4 L131.6,207.1 L132.4,211.0 L133.2,211.1 L134.0,209.6 L134.8,212.0 L135.6,212.6 L136.4,212.5 L137.2,213.5 L138.0,214.9 L138.8,217.8 L139.6,217.8 L140.4,217.3 L141.2,225.2 L142.0,231.4 L142.8,234.2 L143.6,231.1 L144.4,228.1 L145.2,222.8 L146.0,224.0 L146.8,224.6 L147.6,223.0 L148.4,223.7 L149.2,226.4 L150.0,228.7 L150.8,227.6 L151.6,229.3 L152.4,224.9 L153.2,229.4 L154.0,228.1 L154.8,227.7 L155.6,228.3 L156.4,228.0 L157.2,228.1 L158.0,228.5 L158.8,229.5 L159.6,229.5 L160.4,230.5 L161.2,231.9 L162.0,233.1 L162.8,230.3 L163.6,232.7 L164.4,233.1 L165.2,233.6 L166.0,232.4 L166.8,234.4 L167.6,235.1 L168.4,234.9 L169.2,235.9 L170.0,236.2 L170.8,236.0 L171.6,236.6 L172.4,235.0 L173.2,236.5 L174.0,237.2 L174.8,237.9 L175.6,240.8 L176.4,238.9 L177.2,240.2 L178.0,239.7 L178.8,244.1 L179.6,242.6 L180.4,244.6 L181.2,245.5 L182.0,246.5 L182.8,246.3 L183.6,246.0 L184.4,247.8 L185.2,246.8 L186.0,245.6 L186.8,247.0 L187.6,247.9 L188.4,246.2 L189.2,247.0 L190.0,245.5 L190.8,247.8 L191.6,248.3 L192.4,248.9 L193.2,248.4 L194.0,248.7 L194.8,248.9 L195.6,251.9 L196.4,249.8 L197.2,249.5 L198.0,251.3 L198.8,251.0 L199.6,252.6 L200.4,250.7 L201.2,250.6 L202.0,250.5 L202.8,251.3 L203.6,251.2 L204.4,251.1 L205.2,251.6 L206.0,252.0 L206.8,252.2 L207.6,252.7 L208.4,253.1 L209.2,253.1 L210.0,253.6 L210.8,254.1 L211.6,254.6 L212.4,256.1 L213.2,255.2 L214.0,254.9 L214.8,255.8 L215.6,256.4 L216.4,255.6 L217.2,257.2 L218.0,256.7 L218.8,257.6 L219.6,256.8 L220.4,258.1 L221.2,258.2 L222.0,259.5 L222.8,259.6 L223.6,258.5 L224.4,260.5 L225.2,260.9 L226.0,260.1 L226.8,260.1 L227.6,260.8 L228.4,261.7 L229.2,260.4 L230.0,261.6 L230.8,261.5 L231.6,260.6 L232.4,261.9 L233.2,263.2 L234.0,262.4 L234.8,262.9 L235.6,262.4 L236.4,262.9 L237.2,263.4 L238.0,263.4 L238.8,263.5 L239.6,263.8 L240.4,264.1 L241.2,263.2 L242.0,264.6 L242.8,264.0 L243.6,263.7 L244.4,264.6 L245.2,265.3 L246.0,265.0 L246.8,265.4 L247.6,266.1 L248.4,266.5 L249.2,265.6 L250.0,266.8 L250.8,266.6 L251.6,266.5 L252.4,266.3 L253.2,267.1 L254.0,267.6 L254.8,267.2 L255.6,267.2 L256.4,267.4 L257.2,266.2 L258.0,267.1 L258.8,267.6 L259.6,267.7 L260.4,267.5 L261.2,267.6 L262.0,268.1 L262.8,267.9 L263.6,267.9 L264.4,267.8 L265.2,269.6 L266.0,267.5 L266.8,269.1 L267.6,269.2 L268.4,270.5 L269.2,270.0 L270.0,270.0 L270.8,269.7 L271.6,269.5 L272.4,269.2 L273.2,269.3 L274.0,270.6 L274.8,270.8 L275.6,268.5 L276.4,268.8 L277.2,269.3 L278.0,269.4 L278.8,270.2 L279.6,271.4 L280.4,270.8 L281.2,271.1 L282.0,270.9 L282.8,271.5 L283.6,270.7 L284.4,271.9 L285.2,271.3 L286.0,273.3 L286.8,272.3 L287.6,272.3 L288.4,273.2 L289.2,272.4 L290.0,272.5 L290.8,273.8 L291.6,273.1 L292.4,273.2 L293.2,272.9 L294.0,273.1 L294.8,273.3 L295.6,273.6 L296.4,273.3 L297.2,273.9 L298.0,274.5 L298.8,275.5 L299.6,274.5 L300.4,274.3 L301.2,274.5 L302.0,275.0 L302.8,274.9 L303.6,274.6 L304.4,275.4 L305.2,275.2 L306.0,275.8 L306.8,276.0 L307.6,275.8 L308.4,276.5 L309.2,277.4 L310.0,275.4 L310.8,275.7 L311.6,275.6 L312.4,276.9 L313.2,277.0 L314.0,278.0 L314.8,276.3 L315.6,277.8 L316.4,276.5 L317.2,277.8 L318.0,277.5 L318.8,277.9 L319.6,278.0 L320.4,277.7 L321.2,278.4 L322.0,277.8 L322.8,276.9 L323.6,277.0 L324.4,278.4 L325.2,278.4 L326.0,278.2 L326.8,278.4 L327.6,279.4 L328.4,276.9 L329.2,277.9 L330.0,279.0 L330.8,278.2 L331.6,278.5 L332.4,278.3 L333.2,278.6 L334.0,278.8 L334.8,277.5 L335.6,278.4 L336.4,278.9 L337.2,278.3 L338.0,279.9 L338.8,278.9 L339.6,278.1 L340.4,279.4 L341.2,279.2 L342.0,279.2 L342.8,278.9 L343.6,278.8 L344.4,280.5 L345.2,279.1 L346.0,279.4 L346.8,279.3 L347.6,279.8 L348.4,280.6 L349.2,278.9 L350.0,279.5 L350.8,279.5 L351.6,279.6 L352.4,280.4 L353.2,280.3 L354.0,280.9 L354.8,280.5 L355.6,280.8 L356.4,280.4 L357.2,280.3 L358.0,279.9 L358.8,280.3 L359.6,279.8 L360.4,279.6 L361.2,280.1 L362.0,280.0 L362.8,280.3 L363.6,280.7 L364.4,280.4 L365.2,279.8 L366.0,279.4 L366.8,281.3 L367.6,280.3 L368.4,280.7 L369.2,280.6 L370.0,280.3 L370.8,280.6 L371.6,279.5 L372.4,280.7 L373.2,280.3 L374.0,281.7 L374.8,281.3 L375.6,281.1 L376.4,280.5 L377.2,281.5 L378.0,281.6 L378.8,280.3 L379.6,280.9 L380.4,281.1 L381.2,282.2 L382.0,281.2 L382.8,280.4 L383.6,282.2 L384.4,280.2 L385.2,281.2 L386.0,281.8 L386.8,281.6 L387.6,281.4 L388.4,281.2 L389.2,281.6 L390.0,281.7 L390.8,281.8 L391.6,282.0 L392.4,281.9 L393.2,284.5 L394.0,284.9 L394.8,284.7 L395.6,284.2 L396.4,283.3 L397.2,283.1 L398.0,283.2 L398.8,283.1 L399.6,282.7 L400.4,282.5 L401.2,282.8 L402.0,282.3 L402.8,282.7 L403.6,282.8 L404.4,282.6 L405.2,282.4 L405.6,282.2 L405.6,294.0 Z" fill="url(#gL)"/><path d="M34.8,158.7 L35.6,152.1 L36.4,152.6 L37.2,147.7 L38.0,143.9 L38.8,143.7 L39.6,139.5 L40.4,138.0 L41.2,146.2 L42.0,148.7 L42.8,146.5 L43.6,148.8 L44.4,148.8 L45.2,153.3 L46.0,152.0 L46.8,155.1 L47.6,154.2 L48.4,164.4 L49.2,173.5 L50.0,156.7 L50.8,158.5 L51.6,154.1 L52.4,161.4 L53.2,159.7 L54.0,158.3 L54.8,155.7 L55.6,155.5 L56.4,162.5 L57.2,165.4 L58.0,168.4 L58.8,165.2 L59.6,162.9 L60.4,161.6 L61.2,155.2 L62.0,156.7 L62.8,165.9 L63.6,167.6 L64.4,175.1 L65.2,171.4 L66.0,173.1 L66.8,174.0 L67.6,175.2 L68.4,180.5 L69.2,177.0 L70.0,183.2 L70.8,182.0 L71.6,187.3 L72.4,195.5 L73.2,207.9 L74.0,210.6 L74.8,196.3 L75.6,180.8 L76.4,178.9 L77.2,170.6 L78.0,183.4 L78.8,184.6 L79.6,189.9 L80.4,189.3 L81.2,181.0 L82.0,181.2 L82.8,187.4 L83.6,191.3 L84.4,197.9 L85.2,193.5 L86.0,186.4 L86.8,183.4 L87.6,185.6 L88.4,181.8 L89.2,180.0 L90.0,182.6 L90.8,181.0 L91.6,178.3 L92.4,180.0 L93.2,180.9 L94.0,186.3 L94.8,183.0 L95.6,184.9 L96.4,181.6 L97.2,178.5 L98.0,180.5 L98.8,186.2 L99.6,185.1 L100.4,184.8 L101.2,187.2 L102.0,191.9 L102.8,191.8 L103.6,193.5 L104.4,190.9 L105.2,187.3 L106.0,191.9 L106.8,186.7 L107.6,187.5 L108.4,189.0 L109.2,186.5 L110.0,191.6 L110.8,191.7 L111.6,188.0 L112.4,193.6 L113.2,192.3 L114.0,194.1 L114.8,194.3 L115.6,195.0 L116.4,194.7 L117.2,196.5 L118.0,198.1 L118.8,201.8 L119.6,199.0 L120.4,201.6 L121.2,203.3 L122.0,206.8 L122.8,206.4 L123.6,208.1 L124.4,207.8 L125.2,204.3 L126.0,205.6 L126.8,205.4 L127.6,204.5 L128.4,207.2 L129.2,208.8 L130.0,205.8 L130.8,206.4 L131.6,207.1 L132.4,211.0 L133.2,211.1 L134.0,209.6 L134.8,212.0 L135.6,212.6 L136.4,212.5 L137.2,213.5 L138.0,214.9 L138.8,217.8 L139.6,217.8 L140.4,217.3 L141.2,225.2 L142.0,231.4 L142.8,234.2 L143.6,231.1 L144.4,228.1 L145.2,222.8 L146.0,224.0 L146.8,224.6 L147.6,223.0 L148.4,223.7 L149.2,226.4 L150.0,228.7 L150.8,227.6 L151.6,229.3 L152.4,224.9 L153.2,229.4 L154.0,228.1 L154.8,227.7 L155.6,228.3 L156.4,228.0 L157.2,228.1 L158.0,228.5 L158.8,229.5 L159.6,229.5 L160.4,230.5 L161.2,231.9 L162.0,233.1 L162.8,230.3 L163.6,232.7 L164.4,233.1 L165.2,233.6 L166.0,232.4 L166.8,234.4 L167.6,235.1 L168.4,234.9 L169.2,235.9 L170.0,236.2 L170.8,236.0 L171.6,236.6 L172.4,235.0 L173.2,236.5 L174.0,237.2 L174.8,237.9 L175.6,240.8 L176.4,238.9 L177.2,240.2 L178.0,239.7 L178.8,244.1 L179.6,242.6 L180.4,244.6 L181.2,245.5 L182.0,246.5 L182.8,246.3 L183.6,246.0 L184.4,247.8 L185.2,246.8 L186.0,245.6 L186.8,247.0 L187.6,247.9 L188.4,246.2 L189.2,247.0 L190.0,245.5 L190.8,247.8 L191.6,248.3 L192.4,248.9 L193.2,248.4 L194.0,248.7 L194.8,248.9 L195.6,251.9 L196.4,249.8 L197.2,249.5 L198.0,251.3 L198.8,251.0 L199.6,252.6 L200.4,250.7 L201.2,250.6 L202.0,250.5 L202.8,251.3 L203.6,251.2 L204.4,251.1 L205.2,251.6 L206.0,252.0 L206.8,252.2 L207.6,252.7 L208.4,253.1 L209.2,253.1 L210.0,253.6 L210.8,254.1 L211.6,254.6 L212.4,256.1 L213.2,255.2 L214.0,254.9 L214.8,255.8 L215.6,256.4 L216.4,255.6 L217.2,257.2 L218.0,256.7 L218.8,257.6 L219.6,256.8 L220.4,258.1 L221.2,258.2 L222.0,259.5 L222.8,259.6 L223.6,258.5 L224.4,260.5 L225.2,260.9 L226.0,260.1 L226.8,260.1 L227.6,260.8 L228.4,261.7 L229.2,260.4 L230.0,261.6 L230.8,261.5 L231.6,260.6 L232.4,261.9 L233.2,263.2 L234.0,262.4 L234.8,262.9 L235.6,262.4 L236.4,262.9 L237.2,263.4 L238.0,263.4 L238.8,263.5 L239.6,263.8 L240.4,264.1 L241.2,263.2 L242.0,264.6 L242.8,264.0 L243.6,263.7 L244.4,264.6 L245.2,265.3 L246.0,265.0 L246.8,265.4 L247.6,266.1 L248.4,266.5 L249.2,265.6 L250.0,266.8 L250.8,266.6 L251.6,266.5 L252.4,266.3 L253.2,267.1 L254.0,267.6 L254.8,267.2 L255.6,267.2 L256.4,267.4 L257.2,266.2 L258.0,267.1 L258.8,267.6 L259.6,267.7 L260.4,267.5 L261.2,267.6 L262.0,268.1 L262.8,267.9 L263.6,267.9 L264.4,267.8 L265.2,269.6 L266.0,267.5 L266.8,269.1 L267.6,269.2 L268.4,270.5 L269.2,270.0 L270.0,270.0 L270.8,269.7 L271.6,269.5 L272.4,269.2 L273.2,269.3 L274.0,270.6 L274.8,270.8 L275.6,268.5 L276.4,268.8 L277.2,269.3 L278.0,269.4 L278.8,270.2 L279.6,271.4 L280.4,270.8 L281.2,271.1 L282.0,270.9 L282.8,271.5 L283.6,270.7 L284.4,271.9 L285.2,271.3 L286.0,273.3 L286.8,272.3 L287.6,272.3 L288.4,273.2 L289.2,272.4 L290.0,272.5 L290.8,273.8 L291.6,273.1 L292.4,273.2 L293.2,272.9 L294.0,273.1 L294.8,273.3 L295.6,273.6 L296.4,273.3 L297.2,273.9 L298.0,274.5 L298.8,275.5 L299.6,274.5 L300.4,274.3 L301.2,274.5 L302.0,275.0 L302.8,274.9 L303.6,274.6 L304.4,275.4 L305.2,275.2 L306.0,275.8 L306.8,276.0 L307.6,275.8 L308.4,276.5 L309.2,277.4 L310.0,275.4 L310.8,275.7 L311.6,275.6 L312.4,276.9 L313.2,277.0 L314.0,278.0 L314.8,276.3 L315.6,277.8 L316.4,276.5 L317.2,277.8 L318.0,277.5 L318.8,277.9 L319.6,278.0 L320.4,277.7 L321.2,278.4 L322.0,277.8 L322.8,276.9 L323.6,277.0 L324.4,278.4 L325.2,278.4 L326.0,278.2 L326.8,278.4 L327.6,279.4 L328.4,276.9 L329.2,277.9 L330.0,279.0 L330.8,278.2 L331.6,278.5 L332.4,278.3 L333.2,278.6 L334.0,278.8 L334.8,277.5 L335.6,278.4 L336.4,278.9 L337.2,278.3 L338.0,279.9 L338.8,278.9 L339.6,278.1 L340.4,279.4 L341.2,279.2 L342.0,279.2 L342.8,278.9 L343.6,278.8 L344.4,280.5 L345.2,279.1 L346.0,279.4 L346.8,279.3 L347.6,279.8 L348.4,280.6 L349.2,278.9 L350.0,279.5 L350.8,279.5 L351.6,279.6 L352.4,280.4 L353.2,280.3 L354.0,280.9 L354.8,280.5 L355.6,280.8 L356.4,280.4 L357.2,280.3 L358.0,279.9 L358.8,280.3 L359.6,279.8 L360.4,279.6 L361.2,280.1 L362.0,280.0 L362.8,280.3 L363.6,280.7 L364.4,280.4 L365.2,279.8 L366.0,279.4 L366.8,281.3 L367.6,280.3 L368.4,280.7 L369.2,280.6 L370.0,280.3 L370.8,280.6 L371.6,279.5 L372.4,280.7 L373.2,280.3 L374.0,281.7 L374.8,281.3 L375.6,281.1 L376.4,280.5 L377.2,281.5 L378.0,281.6 L378.8,280.3 L379.6,280.9 L380.4,281.1 L381.2,282.2 L382.0,281.2 L382.8,280.4 L383.6,282.2 L384.4,280.2 L385.2,281.2 L386.0,281.8 L386.8,281.6 L387.6,281.4 L388.4,281.2 L389.2,281.6 L390.0,281.7 L390.8,281.8 L391.6,282.0 L392.4,281.9 L393.2,284.5 L394.0,284.9 L394.8,284.7 L395.6,284.2 L396.4,283.3 L397.2,283.1 L398.0,283.2 L398.8,283.1 L399.6,282.7 L400.4,282.5 L401.2,282.8 L402.0,282.3 L402.8,282.7 L403.6,282.8 L404.4,282.6 L405.2,282.4 L405.6,282.2" fill="none" stroke="#c83c34" stroke-width="1.0" stroke-opacity="0.55" stroke-linejoin="round"/><path d="M439.3,293.9 L439.3,291.7 L442.7,291.7 L443.5,288.0 L444.6,287.1 L446.0,288.0 L447.1,291.7 L480.0,291.7 L480.5,289.0 L481.2,278.0 L482.2,270.0 L482.7,268.3 L483.4,270.0 L484.2,278.0 L485.2,284.0 L485.8,287.5 L486.6,291.7 L535.9,291.7 L538.0,290.0 L541.0,284.0 L544.0,277.0 L547.8,273.1 L551.0,276.0 L555.0,281.0 L560.0,286.5 L565.0,290.0 L570.0,291.7 L602.6,291.7 L606.8,289.0 L609.7,266.0 L612.5,229.0 L614.8,192.3 L616.2,185.2 L617.6,183.8 L618.3,150.0 L618.7,144.2 L619.6,144.2 L620.1,183.8 L621.0,223.5 L623.8,251.8 L626.7,266.0 L629.5,280.1 L632.3,288.6 L638.0,291.7 L655.0,290.0 L657.8,280.1 L660.7,274.5 L663.5,271.6 L666.3,268.8 L669.2,261.7 L671.4,268.8 L673.4,266.0 L676.2,274.5 L679.0,271.6 L681.9,281.6 L684.2,278.7 L687.1,284.4 L691.3,285.8 L694.2,283.0 L695.6,271.6 L697.0,249.0 L698.4,186.7 L699.3,134.2 L700.4,135.7 L701.8,186.7 L704.1,229.2 L706.1,254.6 L708.3,268.8 L712.6,274.5 L718.2,277.3 L721.9,275.9 L723.3,267.4 L724.8,274.5 L726.7,285.8 L731.0,290.0 L744.0,290.6 L746.6,287.2 L749.4,290.6 L760.0,290.3 L762.2,289.5 L764.0,290.6 L779.2,290.9 L793.3,290.0 L803.0,290.3 L804.6,280.1 L806.0,290.0 L808.9,290.6 L808.9,293.9 Z" fill="url(#gF)"/><path d="M439.3,291.7 L442.7,291.7 L443.5,288.0 L444.6,287.1 L446.0,288.0 L447.1,291.7 L480.0,291.7 L480.5,289.0 L481.2,278.0 L482.2,270.0 L482.7,268.3 L483.4,270.0 L484.2,278.0 L485.2,284.0 L485.8,287.5 L486.6,291.7 L535.9,291.7 L538.0,290.0 L541.0,284.0 L544.0,277.0 L547.8,273.1 L551.0,276.0 L555.0,281.0 L560.0,286.5 L565.0,290.0 L570.0,291.7 L602.6,291.7 L606.8,289.0 L609.7,266.0 L612.5,229.0 L614.8,192.3 L616.2,185.2 L617.6,183.8 L618.3,150.0 L618.7,144.2 L619.6,144.2 L620.1,183.8 L621.0,223.5 L623.8,251.8 L626.7,266.0 L629.5,280.1 L632.3,288.6 L638.0,291.7 L655.0,290.0 L657.8,280.1 L660.7,274.5 L663.5,271.6 L666.3,268.8 L669.2,261.7 L671.4,268.8 L673.4,266.0 L676.2,274.5 L679.0,271.6 L681.9,281.6 L684.2,278.7 L687.1,284.4 L691.3,285.8 L694.2,283.0 L695.6,271.6 L697.0,249.0 L698.4,186.7 L699.3,134.2 L700.4,135.7 L701.8,186.7 L704.1,229.2 L706.1,254.6 L708.3,268.8 L712.6,274.5 L718.2,277.3 L721.9,275.9 L723.3,267.4 L724.8,274.5 L726.7,285.8 L731.0,290.0 L744.0,290.6 L746.6,287.2 L749.4,290.6 L760.0,290.3 L762.2,289.5 L764.0,290.6 L779.2,290.9 L793.3,290.0 L803.0,290.3 L804.6,280.1 L806.0,290.0 L808.9,290.6" fill="none" stroke="#c84a3a" stroke-width="0.8" stroke-opacity="0.55" stroke-linejoin="round"/><path d="M34.7,466.5 L34.7,354.9 L35.5,362.2 L36.3,357.8 L37.1,362.9 L37.9,362.1 L38.7,363.2 L39.5,366.8 L40.3,360.1 L41.1,362.0 L41.9,360.1 L42.7,360.7 L43.5,367.6 L44.3,363.9 L45.1,360.9 L45.9,358.1 L46.7,357.2 L47.5,361.4 L48.3,369.2 L49.1,365.1 L49.9,361.0 L50.7,355.1 L51.5,355.3 L52.3,358.5 L53.1,359.4 L53.9,360.1 L54.7,355.3 L55.5,354.3 L56.3,355.8 L57.1,354.3 L57.9,357.4 L58.7,358.7 L59.5,356.9 L60.3,360.5 L61.1,359.5 L61.9,357.8 L62.7,361.7 L63.5,370.6 L64.3,368.9 L65.1,364.1 L65.9,362.0 L66.7,357.5 L67.5,362.2 L68.3,360.2 L69.1,363.4 L69.9,366.2 L70.7,367.3 L71.5,373.0 L72.3,373.4 L73.1,387.0 L73.9,387.6 L74.7,368.3 L75.5,349.9 L76.3,353.5 L77.1,358.9 L77.9,372.5 L78.7,361.2 L79.5,357.1 L80.3,352.7 L81.1,358.4 L81.9,354.1 L82.7,354.6 L83.5,362.4 L84.3,368.4 L85.1,361.4 L85.9,358.9 L86.7,355.2 L87.5,354.1 L88.3,350.1 L89.1,346.3 L89.9,349.3 L90.7,354.6 L91.5,357.7 L92.3,356.6 L93.1,356.2 L93.9,353.5 L94.7,351.2 L95.5,348.1 L96.3,339.6 L97.1,340.9 L97.9,338.7 L98.7,338.9 L99.5,344.1 L100.3,344.6 L101.1,349.1 L101.9,348.2 L102.7,347.7 L103.5,349.8 L104.3,349.7 L105.1,347.0 L105.9,350.4 L106.7,352.2 L107.5,344.7 L108.3,351.5 L109.1,345.3 L109.9,350.1 L110.7,348.7 L111.5,347.9 L112.3,349.2 L113.1,351.8 L113.9,353.9 L114.7,356.2 L115.5,351.0 L116.3,351.6 L117.1,348.1 L117.9,346.1 L118.7,346.8 L119.5,349.8 L120.3,351.7 L121.1,356.1 L121.9,355.4 L122.7,354.6 L123.5,355.3 L124.3,348.4 L125.1,351.4 L125.9,351.9 L126.7,351.3 L127.5,348.6 L128.3,348.5 L129.1,349.8 L129.9,348.0 L130.7,352.4 L131.5,353.1 L132.3,354.3 L133.1,351.6 L133.9,350.9 L134.7,354.1 L135.5,355.6 L136.3,356.6 L137.1,355.9 L137.9,355.3 L138.7,359.4 L139.5,362.1 L140.3,367.3 L141.1,371.8 L141.9,375.8 L142.7,374.4 L143.5,372.0 L144.3,366.3 L145.1,364.4 L145.9,361.1 L146.7,358.3 L147.5,357.8 L148.3,355.0 L149.1,360.0 L149.9,361.0 L150.7,361.7 L151.5,361.0 L152.3,361.9 L153.1,362.7 L153.9,362.7 L154.7,363.3 L155.5,362.6 L156.3,364.4 L157.1,366.8 L157.9,365.8 L158.7,366.9 L159.5,364.8 L160.3,369.7 L161.1,368.3 L161.9,371.0 L162.7,369.1 L163.5,371.9 L164.3,371.1 L165.1,367.0 L165.9,369.4 L166.7,370.8 L167.5,369.9 L168.3,369.2 L169.1,368.6 L169.9,366.5 L170.7,370.5 L171.5,370.2 L172.3,367.3 L173.1,369.2 L173.9,368.7 L174.7,370.0 L175.5,369.6 L176.3,371.7 L177.1,372.0 L177.9,370.3 L178.7,373.8 L179.5,373.3 L180.3,380.6 L181.1,383.6 L181.9,379.6 L182.7,376.7 L183.5,373.9 L184.3,373.6 L185.1,376.2 L185.9,374.2 L186.7,372.5 L187.5,372.5 L188.3,372.7 L189.1,372.5 L189.9,373.1 L190.7,373.2 L191.5,374.1 L192.3,375.0 L193.1,373.3 L193.9,372.4 L194.7,375.8 L195.5,374.3 L196.3,373.7 L197.1,374.3 L197.9,377.2 L198.7,373.5 L199.5,376.2 L200.3,375.7 L201.1,374.9 L201.9,375.9 L202.7,375.7 L203.5,373.3 L204.3,376.4 L205.1,374.7 L205.9,378.3 L206.7,375.2 L207.5,375.5 L208.3,374.4 L209.1,375.3 L209.9,375.5 L210.7,374.6 L211.5,376.3 L212.3,373.5 L213.1,376.2 L213.9,375.1 L214.7,379.6 L215.5,377.4 L216.3,378.5 L217.1,378.9 L217.9,376.2 L218.7,378.1 L219.5,377.2 L220.3,379.8 L221.1,376.2 L221.9,378.8 L222.7,378.8 L223.5,379.2 L224.3,378.5 L225.1,376.9 L225.9,380.7 L226.7,381.6 L227.5,382.2 L228.3,381.0 L229.1,380.5 L229.9,381.3 L230.7,384.9 L231.5,383.1 L232.3,384.4 L233.1,381.0 L233.9,382.7 L234.7,383.4 L235.5,380.1 L236.3,385.2 L237.1,380.1 L237.9,381.9 L238.7,382.6 L239.5,384.3 L240.3,381.9 L241.1,387.0 L241.9,386.8 L242.7,385.9 L243.5,385.5 L244.3,384.6 L245.1,387.4 L245.9,387.0 L246.7,389.2 L247.5,388.7 L248.3,388.9 L249.1,389.4 L249.9,388.7 L250.7,388.2 L251.5,391.1 L252.3,389.9 L253.1,390.3 L253.9,389.1 L254.7,389.5 L255.5,389.9 L256.3,390.8 L257.1,387.6 L257.9,388.0 L258.7,386.9 L259.5,387.6 L260.3,384.4 L261.1,383.0 L261.9,385.2 L262.7,385.0 L263.5,387.3 L264.3,386.4 L265.1,386.8 L265.9,390.6 L266.7,389.7 L267.5,387.3 L268.3,389.9 L269.1,395.8 L269.9,395.1 L270.7,395.1 L271.5,390.9 L272.3,387.6 L273.1,388.1 L273.9,388.9 L274.7,391.2 L275.5,392.4 L276.3,389.4 L277.1,388.5 L277.9,391.5 L278.7,390.3 L279.5,391.8 L280.3,392.9 L281.1,393.0 L281.9,392.2 L282.7,392.7 L283.5,391.6 L284.3,393.2 L285.1,394.4 L285.9,393.5 L286.7,394.6 L287.5,394.1 L288.3,395.6 L289.1,395.0 L289.9,393.1 L290.7,393.3 L291.5,390.2 L292.3,393.7 L293.1,392.9 L293.9,394.3 L294.7,394.3 L295.5,395.6 L296.3,394.9 L297.1,397.5 L297.9,397.3 L298.7,398.6 L299.5,397.6 L300.3,397.0 L301.1,398.5 L301.9,398.1 L302.7,396.5 L303.5,394.1 L304.3,395.8 L305.1,395.1 L305.9,396.4 L306.7,395.0 L307.5,393.4 L308.3,393.2 L309.1,394.0 L309.9,392.0 L310.7,394.7 L311.5,393.6 L312.3,391.4 L313.1,393.8 L313.9,394.1 L314.7,393.0 L315.5,393.0 L316.3,393.9 L317.1,396.9 L317.9,398.1 L318.7,399.9 L319.5,396.3 L320.3,399.7 L321.1,399.0 L321.9,397.4 L322.7,400.3 L323.5,399.5 L324.3,396.6 L325.1,398.3 L325.9,399.7 L326.7,398.3 L327.5,397.2 L328.3,398.4 L329.1,396.2 L329.9,395.5 L330.7,396.5 L331.5,396.4 L332.3,395.6 L333.1,399.0 L333.9,393.5 L334.7,395.4 L335.5,396.5 L336.3,396.1 L337.1,397.8 L337.9,396.9 L338.7,397.9 L339.5,396.6 L340.3,396.4 L341.1,397.1 L341.9,397.3 L342.7,399.7 L343.5,395.1 L344.3,397.5 L345.1,397.7 L345.9,398.1 L346.7,396.9 L347.5,394.8 L348.3,397.1 L349.1,398.0 L349.9,394.9 L350.7,397.4 L351.5,400.2 L352.3,405.5 L353.1,408.9 L353.9,408.5 L354.7,405.1 L355.5,398.4 L356.3,396.9 L357.1,397.1 L357.9,396.3 L358.7,395.7 L359.5,396.3 L360.3,395.2 L361.1,395.3 L361.9,397.6 L362.7,395.8 L363.5,394.5 L364.3,395.9 L365.1,395.5 L365.9,398.1 L366.7,397.6 L367.5,398.1 L368.3,397.5 L369.1,396.8 L369.9,395.2 L370.7,395.1 L371.5,398.1 L372.3,399.3 L373.1,398.6 L373.9,396.8 L374.7,398.8 L375.5,398.3 L376.3,398.6 L377.1,396.1 L377.9,400.6 L378.7,399.2 L379.5,399.0 L380.3,398.1 L381.1,400.5 L381.9,401.4 L382.7,400.2 L383.5,401.2 L384.3,401.0 L385.1,398.2 L385.9,399.0 L386.7,400.3 L387.5,398.8 L388.3,400.1 L389.1,400.9 L389.9,401.2 L390.7,410.5 L391.5,422.9 L392.3,416.8 L393.1,417.1 L393.9,414.4 L394.7,410.9 L395.5,408.7 L396.3,406.3 L397.1,408.8 L397.9,406.3 L398.7,404.4 L399.5,404.8 L400.3,404.4 L401.1,407.0 L401.9,407.4 L402.7,402.2 L403.5,404.0 L404.3,407.3 L405.1,404.9 L405.8,405.0 L405.8,466.5 Z" fill="url(#gL)"/><path d="M34.7,354.9 L35.5,362.2 L36.3,357.8 L37.1,362.9 L37.9,362.1 L38.7,363.2 L39.5,366.8 L40.3,360.1 L41.1,362.0 L41.9,360.1 L42.7,360.7 L43.5,367.6 L44.3,363.9 L45.1,360.9 L45.9,358.1 L46.7,357.2 L47.5,361.4 L48.3,369.2 L49.1,365.1 L49.9,361.0 L50.7,355.1 L51.5,355.3 L52.3,358.5 L53.1,359.4 L53.9,360.1 L54.7,355.3 L55.5,354.3 L56.3,355.8 L57.1,354.3 L57.9,357.4 L58.7,358.7 L59.5,356.9 L60.3,360.5 L61.1,359.5 L61.9,357.8 L62.7,361.7 L63.5,370.6 L64.3,368.9 L65.1,364.1 L65.9,362.0 L66.7,357.5 L67.5,362.2 L68.3,360.2 L69.1,363.4 L69.9,366.2 L70.7,367.3 L71.5,373.0 L72.3,373.4 L73.1,387.0 L73.9,387.6 L74.7,368.3 L75.5,349.9 L76.3,353.5 L77.1,358.9 L77.9,372.5 L78.7,361.2 L79.5,357.1 L80.3,352.7 L81.1,358.4 L81.9,354.1 L82.7,354.6 L83.5,362.4 L84.3,368.4 L85.1,361.4 L85.9,358.9 L86.7,355.2 L87.5,354.1 L88.3,350.1 L89.1,346.3 L89.9,349.3 L90.7,354.6 L91.5,357.7 L92.3,356.6 L93.1,356.2 L93.9,353.5 L94.7,351.2 L95.5,348.1 L96.3,339.6 L97.1,340.9 L97.9,338.7 L98.7,338.9 L99.5,344.1 L100.3,344.6 L101.1,349.1 L101.9,348.2 L102.7,347.7 L103.5,349.8 L104.3,349.7 L105.1,347.0 L105.9,350.4 L106.7,352.2 L107.5,344.7 L108.3,351.5 L109.1,345.3 L109.9,350.1 L110.7,348.7 L111.5,347.9 L112.3,349.2 L113.1,351.8 L113.9,353.9 L114.7,356.2 L115.5,351.0 L116.3,351.6 L117.1,348.1 L117.9,346.1 L118.7,346.8 L119.5,349.8 L120.3,351.7 L121.1,356.1 L121.9,355.4 L122.7,354.6 L123.5,355.3 L124.3,348.4 L125.1,351.4 L125.9,351.9 L126.7,351.3 L127.5,348.6 L128.3,348.5 L129.1,349.8 L129.9,348.0 L130.7,352.4 L131.5,353.1 L132.3,354.3 L133.1,351.6 L133.9,350.9 L134.7,354.1 L135.5,355.6 L136.3,356.6 L137.1,355.9 L137.9,355.3 L138.7,359.4 L139.5,362.1 L140.3,367.3 L141.1,371.8 L141.9,375.8 L142.7,374.4 L143.5,372.0 L144.3,366.3 L145.1,364.4 L145.9,361.1 L146.7,358.3 L147.5,357.8 L148.3,355.0 L149.1,360.0 L149.9,361.0 L150.7,361.7 L151.5,361.0 L152.3,361.9 L153.1,362.7 L153.9,362.7 L154.7,363.3 L155.5,362.6 L156.3,364.4 L157.1,366.8 L157.9,365.8 L158.7,366.9 L159.5,364.8 L160.3,369.7 L161.1,368.3 L161.9,371.0 L162.7,369.1 L163.5,371.9 L164.3,371.1 L165.1,367.0 L165.9,369.4 L166.7,370.8 L167.5,369.9 L168.3,369.2 L169.1,368.6 L169.9,366.5 L170.7,370.5 L171.5,370.2 L172.3,367.3 L173.1,369.2 L173.9,368.7 L174.7,370.0 L175.5,369.6 L176.3,371.7 L177.1,372.0 L177.9,370.3 L178.7,373.8 L179.5,373.3 L180.3,380.6 L181.1,383.6 L181.9,379.6 L182.7,376.7 L183.5,373.9 L184.3,373.6 L185.1,376.2 L185.9,374.2 L186.7,372.5 L187.5,372.5 L188.3,372.7 L189.1,372.5 L189.9,373.1 L190.7,373.2 L191.5,374.1 L192.3,375.0 L193.1,373.3 L193.9,372.4 L194.7,375.8 L195.5,374.3 L196.3,373.7 L197.1,374.3 L197.9,377.2 L198.7,373.5 L199.5,376.2 L200.3,375.7 L201.1,374.9 L201.9,375.9 L202.7,375.7 L203.5,373.3 L204.3,376.4 L205.1,374.7 L205.9,378.3 L206.7,375.2 L207.5,375.5 L208.3,374.4 L209.1,375.3 L209.9,375.5 L210.7,374.6 L211.5,376.3 L212.3,373.5 L213.1,376.2 L213.9,375.1 L214.7,379.6 L215.5,377.4 L216.3,378.5 L217.1,378.9 L217.9,376.2 L218.7,378.1 L219.5,377.2 L220.3,379.8 L221.1,376.2 L221.9,378.8 L222.7,378.8 L223.5,379.2 L224.3,378.5 L225.1,376.9 L225.9,380.7 L226.7,381.6 L227.5,382.2 L228.3,381.0 L229.1,380.5 L229.9,381.3 L230.7,384.9 L231.5,383.1 L232.3,384.4 L233.1,381.0 L233.9,382.7 L234.7,383.4 L235.5,380.1 L236.3,385.2 L237.1,380.1 L237.9,381.9 L238.7,382.6 L239.5,384.3 L240.3,381.9 L241.1,387.0 L241.9,386.8 L242.7,385.9 L243.5,385.5 L244.3,384.6 L245.1,387.4 L245.9,387.0 L246.7,389.2 L247.5,388.7 L248.3,388.9 L249.1,389.4 L249.9,388.7 L250.7,388.2 L251.5,391.1 L252.3,389.9 L253.1,390.3 L253.9,389.1 L254.7,389.5 L255.5,389.9 L256.3,390.8 L257.1,387.6 L257.9,388.0 L258.7,386.9 L259.5,387.6 L260.3,384.4 L261.1,383.0 L261.9,385.2 L262.7,385.0 L263.5,387.3 L264.3,386.4 L265.1,386.8 L265.9,390.6 L266.7,389.7 L267.5,387.3 L268.3,389.9 L269.1,395.8 L269.9,395.1 L270.7,395.1 L271.5,390.9 L272.3,387.6 L273.1,388.1 L273.9,388.9 L274.7,391.2 L275.5,392.4 L276.3,389.4 L277.1,388.5 L277.9,391.5 L278.7,390.3 L279.5,391.8 L280.3,392.9 L281.1,393.0 L281.9,392.2 L282.7,392.7 L283.5,391.6 L284.3,393.2 L285.1,394.4 L285.9,393.5 L286.7,394.6 L287.5,394.1 L288.3,395.6 L289.1,395.0 L289.9,393.1 L290.7,393.3 L291.5,390.2 L292.3,393.7 L293.1,392.9 L293.9,394.3 L294.7,394.3 L295.5,395.6 L296.3,394.9 L297.1,397.5 L297.9,397.3 L298.7,398.6 L299.5,397.6 L300.3,397.0 L301.1,398.5 L301.9,398.1 L302.7,396.5 L303.5,394.1 L304.3,395.8 L305.1,395.1 L305.9,396.4 L306.7,395.0 L307.5,393.4 L308.3,393.2 L309.1,394.0 L309.9,392.0 L310.7,394.7 L311.5,393.6 L312.3,391.4 L313.1,393.8 L313.9,394.1 L314.7,393.0 L315.5,393.0 L316.3,393.9 L317.1,396.9 L317.9,398.1 L318.7,399.9 L319.5,396.3 L320.3,399.7 L321.1,399.0 L321.9,397.4 L322.7,400.3 L323.5,399.5 L324.3,396.6 L325.1,398.3 L325.9,399.7 L326.7,398.3 L327.5,397.2 L328.3,398.4 L329.1,396.2 L329.9,395.5 L330.7,396.5 L331.5,396.4 L332.3,395.6 L333.1,399.0 L333.9,393.5 L334.7,395.4 L335.5,396.5 L336.3,396.1 L337.1,397.8 L337.9,396.9 L338.7,397.9 L339.5,396.6 L340.3,396.4 L341.1,397.1 L341.9,397.3 L342.7,399.7 L343.5,395.1 L344.3,397.5 L345.1,397.7 L345.9,398.1 L346.7,396.9 L347.5,394.8 L348.3,397.1 L349.1,398.0 L349.9,394.9 L350.7,397.4 L351.5,400.2 L352.3,405.5 L353.1,408.9 L353.9,408.5 L354.7,405.1 L355.5,398.4 L356.3,396.9 L357.1,397.1 L357.9,396.3 L358.7,395.7 L359.5,396.3 L360.3,395.2 L361.1,395.3 L361.9,397.6 L362.7,395.8 L363.5,394.5 L364.3,395.9 L365.1,395.5 L365.9,398.1 L366.7,397.6 L367.5,398.1 L368.3,397.5 L369.1,396.8 L369.9,395.2 L370.7,395.1 L371.5,398.1 L372.3,399.3 L373.1,398.6 L373.9,396.8 L374.7,398.8 L375.5,398.3 L376.3,398.6 L377.1,396.1 L377.9,400.6 L378.7,399.2 L379.5,399.0 L380.3,398.1 L381.1,400.5 L381.9,401.4 L382.7,400.2 L383.5,401.2 L384.3,401.0 L385.1,398.2 L385.9,399.0 L386.7,400.3 L387.5,398.8 L388.3,400.1 L389.1,400.9 L389.9,401.2 L390.7,410.5 L391.5,422.9 L392.3,416.8 L393.1,417.1 L393.9,414.4 L394.7,410.9 L395.5,408.7 L396.3,406.3 L397.1,408.8 L397.9,406.3 L398.7,404.4 L399.5,404.8 L400.3,404.4 L401.1,407.0 L401.9,407.4 L402.7,402.2 L403.5,404.0 L404.3,407.3 L405.1,404.9 L405.8,405.0" fill="none" stroke="#c83c34" stroke-width="1.0" stroke-opacity="0.55" stroke-linejoin="round"/><path d="M437.8,466.5 L437.8,465.3 L438.6,465.0 L439.4,465.1 L440.2,464.8 L441.0,464.7 L441.8,465.2 L442.6,465.2 L443.4,464.9 L444.2,464.2 L445.0,464.0 L445.8,463.9 L446.6,464.2 L447.4,463.5 L448.2,463.0 L449.0,463.3 L449.8,462.3 L450.6,462.7 L451.4,462.3 L452.2,461.5 L453.0,461.2 L453.8,460.7 L454.6,460.3 L455.4,459.2 L456.2,458.6 L457.0,457.3 L457.8,457.1 L458.6,456.0 L459.4,455.3 L460.2,454.9 L461.0,453.6 L461.8,452.9 L462.6,452.6 L463.4,450.7 L464.2,448.9 L465.0,447.8 L465.8,446.2 L466.6,444.9 L467.4,443.3 L468.2,442.0 L469.0,440.3 L469.8,438.9 L470.6,437.6 L471.4,435.2 L472.2,432.8 L473.0,430.3 L473.8,428.5 L474.6,425.1 L475.4,423.3 L476.2,421.0 L477.0,418.6 L477.8,416.2 L478.6,413.2 L479.4,410.8 L480.2,407.3 L481.0,404.2 L481.8,401.1 L482.6,398.0 L483.4,395.0 L484.2,391.1 L485.0,388.3 L485.8,384.9 L486.6,381.5 L487.4,377.5 L488.2,372.8 L489.0,369.3 L489.8,365.6 L490.6,361.4 L491.4,357.2 L492.2,353.1 L493.0,348.7 L493.8,344.9 L494.6,340.8 L495.4,335.7 L496.2,332.2 L497.0,327.2 L497.8,325.4 L498.6,322.6 L499.4,319.3 L500.2,316.7 L501.0,316.8 L501.8,316.5 L502.6,317.4 L503.4,316.6 L504.2,316.6 L505.0,316.2 L505.8,315.4 L506.6,315.4 L507.4,316.9 L508.2,325.7 L509.0,328.9 L509.8,331.5 L510.6,334.5 L511.4,338.8 L512.2,341.7 L513.0,345.8 L513.8,349.5 L514.6,352.9 L515.4,357.3 L516.2,360.0 L517.0,365.2 L517.8,369.0 L518.6,373.2 L519.4,377.2 L520.2,381.9 L521.0,385.2 L521.8,388.8 L522.6,392.4 L523.4,395.9 L524.2,399.4 L525.0,403.4 L525.8,406.7 L526.6,408.9 L527.4,411.3 L528.2,414.2 L529.0,416.6 L529.8,419.0 L530.6,421.4 L531.4,423.7 L532.2,425.0 L533.0,426.7 L533.8,428.3 L534.6,430.3 L535.4,431.6 L536.2,433.6 L537.0,434.7 L537.8,435.5 L538.6,436.0 L539.4,437.0 L540.2,437.7 L541.0,438.6 L541.8,439.3 L542.6,439.9 L543.4,440.3 L544.2,440.7 L545.0,440.8 L545.8,441.6 L546.6,442.0 L547.4,442.7 L548.2,442.8 L549.0,442.8 L549.8,443.2 L550.6,443.1 L551.4,443.1 L552.2,443.1 L553.0,443.4 L553.8,443.4 L554.6,443.1 L555.4,443.0 L556.2,442.6 L557.0,443.0 L557.8,442.8 L558.6,443.1 L559.4,442.0 L560.2,441.5 L561.0,441.1 L561.8,439.9 L562.6,439.7 L563.4,438.9 L564.2,438.2 L565.0,437.6 L565.8,437.3 L566.6,437.4 L567.4,437.3 L568.2,436.5 L569.0,436.0 L569.8,435.6 L570.6,434.9 L571.4,433.7 L572.2,433.4 L573.0,432.6 L573.8,431.7 L574.6,430.9 L575.4,430.4 L576.2,429.5 L577.0,428.3 L577.8,427.8 L578.6,426.9 L579.4,426.6 L580.2,425.8 L581.0,425.8 L581.8,425.2 L582.6,424.2 L583.4,423.6 L584.2,423.1 L585.0,422.6 L585.8,422.7 L586.6,421.4 L587.4,421.0 L588.2,420.4 L589.0,420.1 L589.8,420.0 L590.6,419.1 L591.4,419.2 L592.2,418.8 L593.0,418.6 L593.8,418.3 L594.6,417.4 L595.4,417.8 L596.2,417.1 L597.0,417.6 L597.8,417.3 L598.6,416.1 L599.4,416.1 L600.2,416.0 L601.0,415.8 L601.8,415.2 L602.6,415.6 L603.4,415.4 L604.2,415.5 L605.0,415.7 L605.8,415.3 L606.6,415.6 L607.4,415.0 L608.2,414.6 L609.0,414.6 L609.8,414.6 L610.6,415.0 L611.4,414.1 L612.2,414.7 L613.0,413.8 L613.8,414.2 L614.6,414.1 L615.4,413.2 L616.2,413.5 L617.0,413.8 L617.8,414.3 L618.6,413.9 L619.4,413.6 L620.2,413.7 L621.0,414.3 L621.8,414.4 L622.6,413.8 L623.4,413.6 L624.2,413.8 L625.0,413.4 L625.8,413.8 L626.6,414.4 L627.4,413.8 L628.2,413.6 L629.0,413.7 L629.8,414.2 L630.6,413.7 L631.4,413.7 L632.2,413.6 L633.0,413.8 L633.8,413.9 L634.6,414.5 L635.4,414.1 L636.2,414.1 L637.0,414.0 L637.8,414.3 L638.6,413.8 L639.4,413.9 L640.2,414.1 L641.0,414.3 L641.8,414.3 L642.6,414.1 L643.4,413.9 L644.2,415.2 L645.0,414.4 L645.8,415.1 L646.6,415.2 L647.4,415.1 L648.2,415.6 L649.0,416.3 L649.8,416.6 L650.6,416.4 L651.4,416.6 L652.2,417.2 L653.0,416.5 L653.8,416.8 L654.6,417.1 L655.4,417.2 L656.2,417.2 L657.0,417.5 L657.8,417.6 L658.6,417.8 L659.4,417.7 L660.2,418.1 L661.0,418.1 L661.8,418.2 L662.6,418.4 L663.4,418.4 L664.2,418.5 L665.0,419.4 L665.8,419.4 L666.6,419.9 L667.4,419.9 L668.2,420.4 L669.0,420.4 L669.8,420.7 L670.6,421.6 L671.4,421.4 L672.2,421.6 L673.0,421.7 L673.8,421.9 L674.6,422.2 L675.4,423.1 L676.2,423.4 L677.0,423.5 L677.8,424.3 L678.6,424.0 L679.4,424.2 L680.2,424.8 L681.0,424.4 L681.8,425.6 L682.6,425.6 L683.4,425.6 L684.2,425.6 L685.0,426.3 L685.8,427.3 L686.6,426.9 L687.4,427.2 L688.2,427.6 L689.0,428.3 L689.8,428.8 L690.6,428.9 L691.4,429.6 L692.2,430.0 L693.0,429.8 L693.8,429.6 L694.6,430.9 L695.4,431.2 L696.2,431.0 L697.0,431.3 L697.8,432.0 L698.6,432.1 L699.4,432.5 L700.2,432.3 L701.0,433.4 L701.8,433.5 L702.6,433.3 L703.4,434.4 L704.2,434.5 L705.0,435.5 L705.8,435.3 L706.6,435.5 L707.4,435.9 L708.2,436.5 L709.0,437.4 L709.8,437.1 L710.6,437.5 L711.4,437.9 L712.2,438.2 L713.0,438.4 L713.8,439.0 L714.6,439.4 L715.4,439.0 L716.2,440.0 L717.0,440.8 L717.8,440.5 L718.6,441.0 L719.4,441.4 L720.2,442.0 L721.0,441.6 L721.8,442.2 L722.6,442.5 L723.4,443.2 L724.2,443.0 L725.0,443.1 L725.8,444.2 L726.6,443.5 L727.4,444.1 L728.2,445.0 L729.0,444.8 L729.8,444.7 L730.6,444.9 L731.4,445.5 L732.2,445.6 L733.0,445.7 L733.8,446.0 L734.6,446.3 L735.4,446.7 L736.2,447.0 L737.0,447.3 L737.8,447.5 L738.6,447.9 L739.4,447.8 L740.2,448.3 L741.0,448.6 L741.8,448.9 L742.6,449.0 L743.4,449.4 L744.2,449.4 L745.0,449.3 L745.8,450.5 L746.6,450.5 L747.4,450.5 L748.2,451.4 L749.0,450.7 L749.8,450.9 L750.6,451.3 L751.4,451.5 L752.2,451.8 L753.0,451.8 L753.8,452.1 L754.6,452.3 L755.4,452.4 L756.2,453.0 L757.0,452.5 L757.8,453.2 L758.6,453.4 L759.4,453.9 L760.2,454.1 L761.0,453.9 L761.8,453.9 L762.6,454.4 L763.4,454.3 L764.2,454.8 L765.0,454.3 L765.8,455.0 L766.6,455.4 L767.4,455.4 L768.2,455.2 L769.0,455.9 L769.8,456.3 L770.6,456.5 L771.4,456.1 L772.2,456.7 L773.0,456.8 L773.8,456.9 L774.6,457.1 L775.4,457.0 L776.2,457.9 L777.0,457.5 L777.8,457.5 L778.6,457.6 L779.4,457.9 L780.2,457.9 L781.0,458.3 L781.8,458.7 L782.6,458.4 L783.4,458.4 L784.2,458.7 L785.0,458.3 L785.8,458.7 L786.6,458.9 L787.4,459.4 L788.2,459.0 L789.0,459.3 L789.8,459.2 L790.6,458.9 L791.4,459.4 L792.2,459.4 L793.0,459.2 L793.8,459.9 L794.6,460.1 L795.4,460.1 L796.2,460.0 L797.0,460.2 L797.8,460.6 L798.6,460.2 L799.4,459.9 L800.2,460.4 L801.0,460.7 L801.8,461.2 L802.6,461.0 L803.4,460.6 L804.2,460.8 L805.0,460.5 L805.8,461.1 L806.6,461.0 L807.4,461.2 L808.2,461.5 L808.9,461.4 L808.9,466.5 Z" fill="url(#gD)"/><path d="M437.8,465.3 L438.6,465.0 L439.4,465.1 L440.2,464.8 L441.0,464.7 L441.8,465.2 L442.6,465.2 L443.4,464.9 L444.2,464.2 L445.0,464.0 L445.8,463.9 L446.6,464.2 L447.4,463.5 L448.2,463.0 L449.0,463.3 L449.8,462.3 L450.6,462.7 L451.4,462.3 L452.2,461.5 L453.0,461.2 L453.8,460.7 L454.6,460.3 L455.4,459.2 L456.2,458.6 L457.0,457.3 L457.8,457.1 L458.6,456.0 L459.4,455.3 L460.2,454.9 L461.0,453.6 L461.8,452.9 L462.6,452.6 L463.4,450.7 L464.2,448.9 L465.0,447.8 L465.8,446.2 L466.6,444.9 L467.4,443.3 L468.2,442.0 L469.0,440.3 L469.8,438.9 L470.6,437.6 L471.4,435.2 L472.2,432.8 L473.0,430.3 L473.8,428.5 L474.6,425.1 L475.4,423.3 L476.2,421.0 L477.0,418.6 L477.8,416.2 L478.6,413.2 L479.4,410.8 L480.2,407.3 L481.0,404.2 L481.8,401.1 L482.6,398.0 L483.4,395.0 L484.2,391.1 L485.0,388.3 L485.8,384.9 L486.6,381.5 L487.4,377.5 L488.2,372.8 L489.0,369.3 L489.8,365.6 L490.6,361.4 L491.4,357.2 L492.2,353.1 L493.0,348.7 L493.8,344.9 L494.6,340.8 L495.4,335.7 L496.2,332.2 L497.0,327.2 L497.8,325.4 L498.6,322.6 L499.4,319.3 L500.2,316.7 L501.0,316.8 L501.8,316.5 L502.6,317.4 L503.4,316.6 L504.2,316.6 L505.0,316.2 L505.8,315.4 L506.6,315.4 L507.4,316.9 L508.2,325.7 L509.0,328.9 L509.8,331.5 L510.6,334.5 L511.4,338.8 L512.2,341.7 L513.0,345.8 L513.8,349.5 L514.6,352.9 L515.4,357.3 L516.2,360.0 L517.0,365.2 L517.8,369.0 L518.6,373.2 L519.4,377.2 L520.2,381.9 L521.0,385.2 L521.8,388.8 L522.6,392.4 L523.4,395.9 L524.2,399.4 L525.0,403.4 L525.8,406.7 L526.6,408.9 L527.4,411.3 L528.2,414.2 L529.0,416.6 L529.8,419.0 L530.6,421.4 L531.4,423.7 L532.2,425.0 L533.0,426.7 L533.8,428.3 L534.6,430.3 L535.4,431.6 L536.2,433.6 L537.0,434.7 L537.8,435.5 L538.6,436.0 L539.4,437.0 L540.2,437.7 L541.0,438.6 L541.8,439.3 L542.6,439.9 L543.4,440.3 L544.2,440.7 L545.0,440.8 L545.8,441.6 L546.6,442.0 L547.4,442.7 L548.2,442.8 L549.0,442.8 L549.8,443.2 L550.6,443.1 L551.4,443.1 L552.2,443.1 L553.0,443.4 L553.8,443.4 L554.6,443.1 L555.4,443.0 L556.2,442.6 L557.0,443.0 L557.8,442.8 L558.6,443.1 L559.4,442.0 L560.2,441.5 L561.0,441.1 L561.8,439.9 L562.6,439.7 L563.4,438.9 L564.2,438.2 L565.0,437.6 L565.8,437.3 L566.6,437.4 L567.4,437.3 L568.2,436.5 L569.0,436.0 L569.8,435.6 L570.6,434.9 L571.4,433.7 L572.2,433.4 L573.0,432.6 L573.8,431.7 L574.6,430.9 L575.4,430.4 L576.2,429.5 L577.0,428.3 L577.8,427.8 L578.6,426.9 L579.4,426.6 L580.2,425.8 L581.0,425.8 L581.8,425.2 L582.6,424.2 L583.4,423.6 L584.2,423.1 L585.0,422.6 L585.8,422.7 L586.6,421.4 L587.4,421.0 L588.2,420.4 L589.0,420.1 L589.8,420.0 L590.6,419.1 L591.4,419.2 L592.2,418.8 L593.0,418.6 L593.8,418.3 L594.6,417.4 L595.4,417.8 L596.2,417.1 L597.0,417.6 L597.8,417.3 L598.6,416.1 L599.4,416.1 L600.2,416.0 L601.0,415.8 L601.8,415.2 L602.6,415.6 L603.4,415.4 L604.2,415.5 L605.0,415.7 L605.8,415.3 L606.6,415.6 L607.4,415.0 L608.2,414.6 L609.0,414.6 L609.8,414.6 L610.6,415.0 L611.4,414.1 L612.2,414.7 L613.0,413.8 L613.8,414.2 L614.6,414.1 L615.4,413.2 L616.2,413.5 L617.0,413.8 L617.8,414.3 L618.6,413.9 L619.4,413.6 L620.2,413.7 L621.0,414.3 L621.8,414.4 L622.6,413.8 L623.4,413.6 L624.2,413.8 L625.0,413.4 L625.8,413.8 L626.6,414.4 L627.4,413.8 L628.2,413.6 L629.0,413.7 L629.8,414.2 L630.6,413.7 L631.4,413.7 L632.2,413.6 L633.0,413.8 L633.8,413.9 L634.6,414.5 L635.4,414.1 L636.2,414.1 L637.0,414.0 L637.8,414.3 L638.6,413.8 L639.4,413.9 L640.2,414.1 L641.0,414.3 L641.8,414.3 L642.6,414.1 L643.4,413.9 L644.2,415.2 L645.0,414.4 L645.8,415.1 L646.6,415.2 L647.4,415.1 L648.2,415.6 L649.0,416.3 L649.8,416.6 L650.6,416.4 L651.4,416.6 L652.2,417.2 L653.0,416.5 L653.8,416.8 L654.6,417.1 L655.4,417.2 L656.2,417.2 L657.0,417.5 L657.8,417.6 L658.6,417.8 L659.4,417.7 L660.2,418.1 L661.0,418.1 L661.8,418.2 L662.6,418.4 L663.4,418.4 L664.2,418.5 L665.0,419.4 L665.8,419.4 L666.6,419.9 L667.4,419.9 L668.2,420.4 L669.0,420.4 L669.8,420.7 L670.6,421.6 L671.4,421.4 L672.2,421.6 L673.0,421.7 L673.8,421.9 L674.6,422.2 L675.4,423.1 L676.2,423.4 L677.0,423.5 L677.8,424.3 L678.6,424.0 L679.4,424.2 L680.2,424.8 L681.0,424.4 L681.8,425.6 L682.6,425.6 L683.4,425.6 L684.2,425.6 L685.0,426.3 L685.8,427.3 L686.6,426.9 L687.4,427.2 L688.2,427.6 L689.0,428.3 L689.8,428.8 L690.6,428.9 L691.4,429.6 L692.2,430.0 L693.0,429.8 L693.8,429.6 L694.6,430.9 L695.4,431.2 L696.2,431.0 L697.0,431.3 L697.8,432.0 L698.6,432.1 L699.4,432.5 L700.2,432.3 L701.0,433.4 L701.8,433.5 L702.6,433.3 L703.4,434.4 L704.2,434.5 L705.0,435.5 L705.8,435.3 L706.6,435.5 L707.4,435.9 L708.2,436.5 L709.0,437.4 L709.8,437.1 L710.6,437.5 L711.4,437.9 L712.2,438.2 L713.0,438.4 L713.8,439.0 L714.6,439.4 L715.4,439.0 L716.2,440.0 L717.0,440.8 L717.8,440.5 L718.6,441.0 L719.4,441.4 L720.2,442.0 L721.0,441.6 L721.8,442.2 L722.6,442.5 L723.4,443.2 L724.2,443.0 L725.0,443.1 L725.8,444.2 L726.6,443.5 L727.4,444.1 L728.2,445.0 L729.0,444.8 L729.8,444.7 L730.6,444.9 L731.4,445.5 L732.2,445.6 L733.0,445.7 L733.8,446.0 L734.6,446.3 L735.4,446.7 L736.2,447.0 L737.0,447.3 L737.8,447.5 L738.6,447.9 L739.4,447.8 L740.2,448.3 L741.0,448.6 L741.8,448.9 L742.6,449.0 L743.4,449.4 L744.2,449.4 L745.0,449.3 L745.8,450.5 L746.6,450.5 L747.4,450.5 L748.2,451.4 L749.0,450.7 L749.8,450.9 L750.6,451.3 L751.4,451.5 L752.2,451.8 L753.0,451.8 L753.8,452.1 L754.6,452.3 L755.4,452.4 L756.2,453.0 L757.0,452.5 L757.8,453.2 L758.6,453.4 L759.4,453.9 L760.2,454.1 L761.0,453.9 L761.8,453.9 L762.6,454.4 L763.4,454.3 L764.2,454.8 L765.0,454.3 L765.8,455.0 L766.6,455.4 L767.4,455.4 L768.2,455.2 L769.0,455.9 L769.8,456.3 L770.6,456.5 L771.4,456.1 L772.2,456.7 L773.0,456.8 L773.8,456.9 L774.6,457.1 L775.4,457.0 L776.2,457.9 L777.0,457.5 L777.8,457.5 L778.6,457.6 L779.4,457.9 L780.2,457.9 L781.0,458.3 L781.8,458.7 L782.6,458.4 L783.4,458.4 L784.2,458.7 L785.0,458.3 L785.8,458.7 L786.6,458.9 L787.4,459.4 L788.2,459.0 L789.0,459.3 L789.8,459.2 L790.6,458.9 L791.4,459.4 L792.2,459.4 L793.0,459.2 L793.8,459.9 L794.6,460.1 L795.4,460.1 L796.2,460.0 L797.0,460.2 L797.8,460.6 L798.6,460.2 L799.4,459.9 L800.2,460.4 L801.0,460.7 L801.8,461.2 L802.6,461.0 L803.4,460.6 L804.2,460.8 L805.0,460.5 L805.8,461.1 L806.6,461.0 L807.4,461.2 L808.2,461.5 L808.9,461.4" fill="none" stroke="#c8303a" stroke-width="0.9" stroke-opacity="0.6" stroke-linejoin="round"/><line x1="34.6" y1="122.5" x2="405.8" y2="122.5" stroke="#000" stroke-opacity="0.3" stroke-width="1"/><line x1="433.3" y1="123.2" x2="805" y2="123.2" stroke="#000" stroke-opacity="0.22" stroke-width="1"/><line x1="34.8" y1="293.4" x2="405.6" y2="293.4" stroke="#000" stroke-opacity="0.22" stroke-width="1"/><line x1="439.3" y1="293.3" x2="808.9" y2="293.3" stroke="#000" stroke-opacity="0.25" stroke-width="1"/><line x1="34.6" y1="466.5" x2="405.8" y2="466.5" stroke="#2a2a2a" stroke-width="1"/><line x1="437" y1="466.5" x2="808.9" y2="466.5" stroke="#2a2a2a" stroke-width="1"/><line x1="34.6" y1="466.5" x2="34.6" y2="473.4" stroke="#2a2a2a" stroke-width="1"/><line x1="437.0" y1="462.3" x2="437.0" y2="473.2" stroke="#2a2a2a" stroke-width="1"/><line x1="96.4" y1="466.5" x2="96.4" y2="473.4" stroke="#2a2a2a" stroke-width="1"/><line x1="498.8" y1="466.5" x2="498.8" y2="473.2" stroke="#2a2a2a" stroke-width="1"/><line x1="158.2" y1="466.5" x2="158.2" y2="473.4" stroke="#2a2a2a" stroke-width="1"/><line x1="560.6" y1="466.5" x2="560.6" y2="473.2" stroke="#2a2a2a" stroke-width="1"/><line x1="220.1" y1="466.5" x2="220.1" y2="473.4" stroke="#2a2a2a" stroke-width="1"/><line x1="622.5" y1="466.5" x2="622.5" y2="473.2" stroke="#2a2a2a" stroke-width="1"/><line x1="281.9" y1="466.5" x2="281.9" y2="473.4" stroke="#2a2a2a" stroke-width="1"/><line x1="684.3" y1="466.5" x2="684.3" y2="473.2" stroke="#2a2a2a" stroke-width="1"/><line x1="343.7" y1="466.5" x2="343.7" y2="473.4" stroke="#2a2a2a" stroke-width="1"/><line x1="746.1" y1="466.5" x2="746.1" y2="473.2" stroke="#2a2a2a" stroke-width="1"/><line x1="405.5" y1="466.5" x2="405.5" y2="473.4" stroke="#2a2a2a" stroke-width="1"/><line x1="807.9" y1="466.5" x2="807.9" y2="473.2" stroke="#2a2a2a" stroke-width="1"/><line x1="438.0" y1="294" x2="438.0" y2="295.5" stroke="#888" stroke-width="0.8"/><line x1="499.8" y1="294" x2="499.8" y2="295.5" stroke="#888" stroke-width="0.8"/><line x1="561.6" y1="294" x2="561.6" y2="295.5" stroke="#888" stroke-width="0.8"/><line x1="623.5" y1="294" x2="623.5" y2="295.5" stroke="#888" stroke-width="0.8"/><line x1="685.3" y1="294" x2="685.3" y2="295.5" stroke="#888" stroke-width="0.8"/><line x1="747.1" y1="294" x2="747.1" y2="295.5" stroke="#888" stroke-width="0.8"/><line x1="808.9" y1="294" x2="808.9" y2="295.5" stroke="#888" stroke-width="0.8"/><g fill="#1e1e1e"><text x="34.1" y="483.9" font-size="10.2" textLength="17.1" lengthAdjust="spacingAndGlyphs">400</text><text x="437.2" y="483.9" font-size="10.2" textLength="17.1" lengthAdjust="spacingAndGlyphs">400</text><text x="88.0" y="483.9" font-size="10.2" textLength="17.1" lengthAdjust="spacingAndGlyphs">450</text><text x="490.8" y="483.9" font-size="10.2" textLength="17.1" lengthAdjust="spacingAndGlyphs">450</text><text x="149.4" y="483.9" font-size="10.2" textLength="17.1" lengthAdjust="spacingAndGlyphs">500</text><text x="552.8" y="483.9" font-size="10.2" textLength="17.1" lengthAdjust="spacingAndGlyphs">500</text><text x="211.2" y="483.9" font-size="10.2" textLength="17.1" lengthAdjust="spacingAndGlyphs">550</text><text x="614.5" y="483.9" font-size="10.2" textLength="17.1" lengthAdjust="spacingAndGlyphs">550</text><text x="272.9" y="483.9" font-size="10.2" textLength="17.1" lengthAdjust="spacingAndGlyphs">600</text><text x="676.0" y="483.9" font-size="10.2" textLength="17.1" lengthAdjust="spacingAndGlyphs">600</text><text x="336.9" y="483.9" font-size="10.2" textLength="17.1" lengthAdjust="spacingAndGlyphs">650</text><text x="740.2" y="483.9" font-size="10.2" textLength="17.1" lengthAdjust="spacingAndGlyphs">650</text><text x="385.6" y="483.9" font-size="10.2" textLength="17.1" lengthAdjust="spacingAndGlyphs">700</text><text x="788.8" y="483.9" font-size="10.2" textLength="17.1" lengthAdjust="spacingAndGlyphs">700</text><text x="258.1" y="18.0" font-size="17.6" textLength="40.3" lengthAdjust="spacingAndGlyphs" >Soleil</text><text x="590.6" y="17.9" font-size="17.6" textLength="122.4" lengthAdjust="spacingAndGlyphs" >lampe halogène</text><text x="160.8" y="217.4" font-size="17.6" textLength="63.4" lengthAdjust="spacingAndGlyphs" >ciel bleu</text><text x="521.6" y="217.2" font-size="17.6" textLength="69.6" lengthAdjust="spacingAndGlyphs" >tube fluo</text><text x="214.9" y="362.4" font-size="17.6" textLength="57.4" lengthAdjust="spacingAndGlyphs" >ciel gris</text><text x="526.2" y="362.3" font-size="17.6" textLength="158.6" lengthAdjust="spacingAndGlyphs" >LED de lampe torche</text><text x="134.9" y="503.4" font-size="17.6" textLength="170.7" lengthAdjust="spacingAndGlyphs" >Longueur d’onde (nm)</text><text x="533.7" y="503.4" font-size="17.6" textLength="170.4" lengthAdjust="spacingAndGlyphs" >Longueur d’onde (nm)</text><text x="22.5" y="584.5" font-size="16.8" textLength="352.8" lengthAdjust="spacingAndGlyphs" fill="#000" stroke="#000" stroke-width="0.2">(Source : BUP1010, Zanier et Delahaye)</text><text transform="translate(24.6,288.3) rotate(-90)" x="0" y="0" font-size="17.8" textLength="140.5" lengthAdjust="spacingAndGlyphs">Irradiance relative</text></g></svg>

<div class="cap l1"><b>Figure 2 -</b> Spectres d’émission de différentes sources de lumière naturelles (Soleil au zénith, ciel</div>
<div class="cap l2">bleu, ciel gris) et artificielles (lampe halogène, tube fluorescent, LED de lampe torche bon marché).</div>

</body></html>
